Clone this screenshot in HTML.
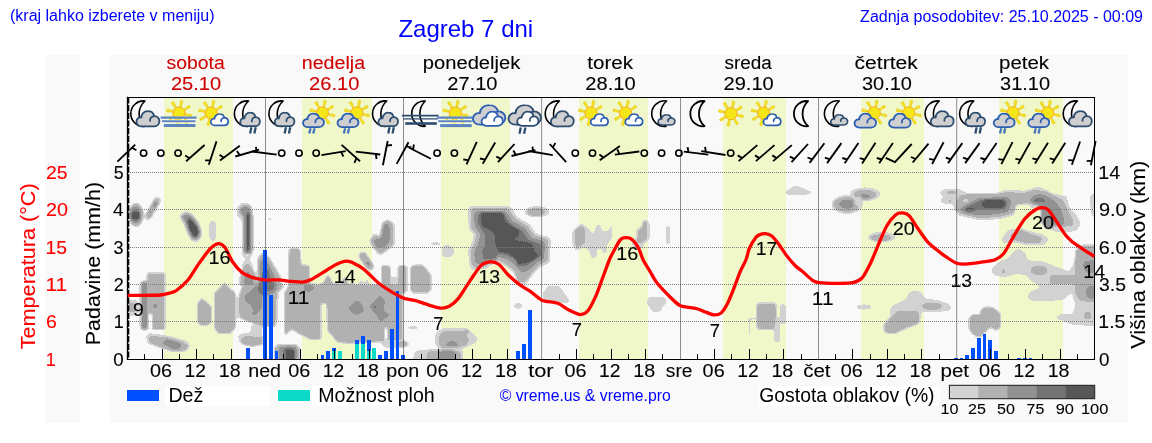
<!DOCTYPE html>
<html lang="sl"><head><meta charset="utf-8"><title>Zagreb 7 dni</title>
<style>html,body{margin:0;padding:0;background:#fff;}body{width:1152px;height:443px;overflow:hidden;font-family:"Liberation Sans",sans-serif;}</style>
</head><body>
<svg width="1152" height="443" viewBox="0 0 1152 443" style="display:block">
<rect x="0" y="0" width="1152" height="443" fill="#fff"/>
<rect x="45" y="55" width="35" height="368" fill="#f9f9f9"/>
<rect x="110" y="55" width="1018" height="368" fill="#f9f9f9"/>
<rect x="127.6" y="97.3" width="967.0" height="262.1" fill="#f9f9f9"/>
<rect x="164" y="98" width="69" height="261" fill="#f0f7c9"/>
<rect x="302" y="98" width="70" height="261" fill="#f0f7c9"/>
<rect x="441" y="98" width="69" height="261" fill="#f0f7c9"/>
<rect x="579" y="98" width="69" height="261" fill="#f0f7c9"/>
<rect x="723" y="98" width="63" height="261" fill="#f0f7c9"/>
<rect x="861" y="98" width="63" height="261" fill="#f0f7c9"/>
<rect x="999" y="98" width="64" height="261" fill="#f0f7c9"/>
<defs><filter id="cf" x="0" y="0" width="100%" height="100%" filterUnits="userSpaceOnUse" color-interpolation-filters="sRGB">
<feGaussianBlur stdDeviation="1.1"/>
<feColorMatrix type="matrix" values="1 0 0 0 0  1 0 0 0 0  1 0 0 0 0  -1 0 0 0 1"/>
<feComponentTransfer>
<feFuncR type="discrete" tableValues=".341 .341 .455 .455 .455 .573 .573 .573 .573 .573 .698 .698 .698 .698 .698 .827 .827 .827 1 1"/>
<feFuncG type="discrete" tableValues=".341 .341 .455 .455 .455 .573 .573 .573 .573 .573 .698 .698 .698 .698 .698 .827 .827 .827 1 1"/>
<feFuncB type="discrete" tableValues=".341 .341 .455 .455 .455 .573 .573 .573 .573 .573 .698 .698 .698 .698 .698 .827 .827 .827 1 1"/>
<feFuncA type="discrete" tableValues="0 0 1 1 1 1 1 1 1 1 1 1 1 1 1 1 1 1 1 1"/>
</feComponentTransfer>
</filter>
<clipPath id="plotclip"><rect x="128.2" y="165" width="965.9" height="194.4"/></clipPath></defs><g clip-path="url(#plotclip)"><g filter="url(#cf)"><rect x="100" y="140" width="1020" height="240" fill="#ffffff"/><ellipse cx="136.1" cy="214.9" rx="7.7" ry="12.3" fill="#d1d1d1"/><ellipse cx="136" cy="214.9" rx="6.7" ry="10.8" fill="#9e9e9e"/><ellipse cx="135.7" cy="214.9" rx="6.0" ry="8.4" fill="#616161"/><ellipse cx="135.5" cy="215.6" rx="4.9" ry="5.5" fill="#2e2e2e"/><rect x="131.6" y="211.7" width="7.8" height="7.8" rx="1.5" fill="#000000"/><line x1="148.3" y1="216.5" x2="157.3" y2="200.3" stroke="#d1d1d1" stroke-width="7.6" stroke-linecap="round"/><line x1="148.8" y1="215.5" x2="156.8" y2="201.2" stroke="#9e9e9e" stroke-width="4.8" stroke-linecap="round"/><ellipse cx="155.2" cy="204.4" rx="1.9" ry="3.6" fill="#616161" transform="rotate(28 155.2 204.4)"/><ellipse cx="150" cy="212" rx="1.2" ry="3.0" fill="#616161" transform="rotate(28 150 212)"/><polygon points="181,213 186,211 192,213.5 199,222 201.8,230 201.5,238 198,242.3 191.5,241.5 187,234 183.5,224 179.5,217" fill="#d1d1d1"/><polygon points="183,215 187,213.5 192,216 198,224 200,231 199.5,237 196.5,239.8 192,238.5 188.5,231 185.5,223 182,217.5" fill="#616161"/><polygon points="186.5,218.5 190.5,217.8 194,221.5 198.5,228.6 198.8,236 193.3,237.3 190,232 187.8,225" fill="#2e2e2e"/><polygon points="187.8,220 190.9,219.4 198.2,228.6 198.2,235.9 193.3,236.5 188.4,228.6" fill="#000000"/><polygon points="212.8,219.4 216.5,223.5 216.5,237.5 212.8,242 209.1,237.5 209.1,223.5" fill="#d1d1d1"/><ellipse cx="244.7" cy="211.5" rx="8.4" ry="9.2" fill="#d1d1d1"/><rect x="241.5" y="212" width="12.2" height="42.0" rx="4" fill="#d1d1d1"/><ellipse cx="245.5" cy="211" rx="5.2" ry="5.6" fill="#616161"/><rect x="243.8" y="212" width="7.8" height="41.5" rx="3.5" fill="#616161"/><rect x="245.6" y="211.3" width="4.3" height="41.7" rx="2" fill="#2e2e2e"/><rect x="246.6" y="214" width="2.6" height="36.0" rx="1.2" fill="#000000"/><ellipse cx="269.6" cy="218.8" rx="2.2" ry="1.8" fill="#d1d1d1"/><ellipse cx="259.6" cy="242.7" rx="1.7" ry="1.7" fill="#d1d1d1"/><rect x="146.6" y="272.6" width="18.8" height="57.4" rx="2" fill="#d1d1d1"/><rect x="147.5" y="273.4" width="17.1" height="55.6" rx="1.5" fill="#9e9e9e"/><rect x="139.6" y="281" width="8.4" height="49.0" rx="2" fill="#d1d1d1"/><rect x="141.6" y="281.8" width="6.0" height="47.4" rx="2" fill="#616161"/><rect x="148.3" y="313" width="4.0" height="18.0" rx="1" fill="#ffffff"/><polygon points="155.2,303 158.6,306 155.2,309 151.8,306" fill="#616161"/><polygon points="128,300 136,300 139,304 138.5,312 134,316 128,316" fill="#d1d1d1"/><rect x="128.5" y="303.4" width="6.9" height="8.4" rx="2" fill="#9e9e9e"/><polygon points="145.5,336 149,332.9 158,334 172,336.5 187,341 190.2,345 189,349.5 184,352.3 172,352 160,348 148,344" fill="#d1d1d1"/><polygon points="148.5,337.5 152,336.4 165,337.5 180,341 188,345.5 186,349.5 180,350.5 170,350 158,346 150,342" fill="#9e9e9e"/><polygon points="161.4,342.9 167.3,338.8 182.5,344 179,349.3 172,348.7" fill="#616161"/><ellipse cx="178.4" cy="322.7" rx="1.3" ry="1.3" fill="#d1d1d1"/><polygon points="197.4,302.4 201.6,297.6 208.6,303 211.6,306 211.6,323 207,326 200.5,326 197.4,323" fill="#d1d1d1"/><polygon points="198.3,303 201.6,299.2 208,304 210.8,306.8 210.8,322.5 206.5,325 201,325 198.3,322.5" fill="#9e9e9e"/><polygon points="214.2,292 221.5,286 224.5,281 227.5,286 235.6,292.5 235.6,328 230,334 219,334 214.2,329" fill="#d1d1d1"/><polygon points="215.2,292.6 222,287 224.5,283 227,287 234.7,293 234.7,327.5 229.5,333 219.5,333 215.2,328.5" fill="#9e9e9e"/><line x1="243.3" y1="254.5" x2="251.5" y2="265" stroke="#d1d1d1" stroke-width="3.0" stroke-linecap="round"/><line x1="251.3" y1="254.5" x2="243.1" y2="265" stroke="#d1d1d1" stroke-width="3.0" stroke-linecap="round"/><polygon points="247.3,260.5 252.5,267 257.5,276.5 258,285 238.5,285 239.2,278 242,267" fill="#d1d1d1"/><polygon points="261.4,252.6 265,252.6 269.3,256 276.5,268.3 281.5,277 282.5,285 256.5,285 256.8,258.5" fill="#d1d1d1"/><polygon points="242.5,284 237,298 234.5,312 235.5,318 241,318.5 259,325.5 262,327 276,327 278,318 278.5,300 279.5,293 284,288 284,284" fill="#d1d1d1"/><polygon points="251,325 262.1,327 262.1,344 256,344 241,340 237,336.5 241.5,333.5 250.5,332.2" fill="#d1d1d1"/><polygon points="247.3,263 251,268 255.5,277 256,285 240.5,285 241.2,279 243.5,268.5" fill="#9e9e9e"/><polygon points="261.8,255 264.8,255 268.6,259 275,269.5 279.5,277.5 280.3,285 258.3,285 258.5,260" fill="#9e9e9e"/><polygon points="244,284 282,284 281,288 277,291.5 276,300 275.5,318 274,326 262,325.5 259,325.4 241.5,318.5 239.3,312 239.8,298" fill="#9e9e9e"/><polygon points="247.6,270 253,280 254,285 244.5,285 244.5,278" fill="#616161"/><polygon points="262.5,258.5 265,258.5 268,263 272,271 275,278 275.5,285 260,285 260,263" fill="#616161"/><polygon points="244.4,295.5 247.7,293.4 256.3,285.4 262.1,284 276.5,284 276.5,290 272.9,294 262.1,296 262.1,307.8 254.9,316 252,307.8 249.8,304.2 245.5,302" fill="#616161"/><polygon points="263,266 266.5,266 269.5,272 271.5,280 275.5,284 274,290 267,292 262.8,296.3 257.8,292 258.2,284 261.5,276" fill="#2e2e2e"/><ellipse cx="253.4" cy="313.4" rx="1.6" ry="1.8" fill="#616161"/><ellipse cx="246.6" cy="307.1" rx="0.9" ry="1.2" fill="#d1d1d1"/><polygon points="237.9,340 243,335.5 262.9,336 262.9,345 252,347 242,345" fill="#d1d1d1"/><polygon points="240.5,340 244.5,336.8 262.4,337.2 262.4,344 252,345.8 243.5,344" fill="#9e9e9e"/><polygon points="273.8,347 278,343.9 296,343.9 299.9,347 299.9,360 273.8,360" fill="#d1d1d1"/><polygon points="275.5,348 279,345.3 295,345.3 298.5,348 298.5,360 275.5,360" fill="#9e9e9e"/><rect x="279" y="346.6" width="17.8" height="14.4" rx="3" fill="#616161"/><rect x="282.5" y="347.8" width="12.5" height="13.2" rx="3" fill="#2e2e2e"/><rect x="285.8" y="349.6" width="8.2" height="11.4" rx="2" fill="#000000"/><polygon points="284.3,336 284.3,292 288,286 288.5,249 294,247.4 300.5,249 301.5,264.5 309.8,265 310.3,283 318,284 322.8,283 328,273 333.2,283 341,283 344.7,276 349,283 356,284 358,284 361,279 364,283.5 367,278.5 370,284 372,284 381,284.4 381,266 385.8,264.6 390.6,266 390.6,279 397.8,279 397.8,266 402.5,264.6 407.3,266 407.3,292 403,294 403,340 396,342 382,342.3 348,343.8 337.4,342.8 327,330.3 326.4,304 321.4,304 321.2,339.7 310,339.7 300,335 291,329" fill="#d1d1d1"/><polygon points="285.2,335 285.2,293 289.3,286 289.5,250 294,248.6 299.8,250 300.6,265.6 309,266 309.4,284 318,285 323.2,284.2 328,275.5 332.8,284.2 341.4,284.2 344.7,278 348.4,284.2 357,285 371,285 381.9,285.3 381.9,267 385.8,265.8 389.8,267 389.8,284.8 398.6,284.8 398.6,267 402.5,265.8 406.4,267 406.4,291 401.8,293 401.8,339 396,341 382,341.3 348,342.8 338,341.8 328,330 327.3,303 320.5,303 320.4,338.7 310.5,338.7 300.5,334 292,328.4" fill="#9e9e9e"/><rect x="389.8" y="277" width="8.8" height="8.0" rx="1" fill="#d1d1d1"/><polygon points="304.5,285 312.7,285 314.5,289 309,292 303,290.5" fill="#616161"/><line x1="362.8" y1="255.8" x2="369.8" y2="266.3" stroke="#d1d1d1" stroke-width="8.6" stroke-linecap="round"/><line x1="363" y1="256.2" x2="369.6" y2="266" stroke="#9e9e9e" stroke-width="6.6" stroke-linecap="round"/><polygon points="368.1,260.5 371,263.5 368.1,266.5 365.2,263.5" fill="#616161"/><polygon points="348.3,308 356,300 361,303 364.5,311 357,315 352,313" fill="#616161"/><polygon points="379.6,295.2 384.8,300.4 383.75,310.8 390,315 380.6,322.3 376.5,315 369.2,306.7" fill="#616161"/><ellipse cx="374.9" cy="306.7" rx="2.2" ry="2" fill="#2e2e2e"/><rect x="384.3" y="327" width="3.1" height="14.5" rx="1.5" fill="#ffffff"/><ellipse cx="281" cy="293.75" rx="2.6" ry="3" fill="#ffffff"/><polygon points="410,268 413,264.8 423.5,264.8 431.4,275 431.4,290 428,293.6 413,293.6 410,290" fill="#d1d1d1"/><polygon points="410.9,268.5 413.5,265.8 423,265.8 430.5,275.5 430.5,289.5 427.5,292.6 413.5,292.6 410.9,289.5" fill="#9e9e9e"/><polygon points="380.6,344 386,339.7 404,339.7 410.8,344 404,348 386,348" fill="#d1d1d1"/><rect x="398.3" y="341.8" width="8.4" height="4.7" rx="2" fill="#9e9e9e"/><ellipse cx="412.8" cy="327.7" rx="5.8" ry="1.8" fill="#d1d1d1"/><polygon points="369.3,239.3 374.8,232.6 379,236.2 382.1,222.2 387,219.1 393,221.6 395.5,225.9 394.9,245.4 380.2,256.3 375.4,251.5 369.9,244.1" fill="#d1d1d1"/><polygon points="371,240 375.2,235.5 380,238 383,223.5 387,220.8 391.5,223.5 393,227 392.6,244.2 380.6,253.3 376,249.5 371.5,243.5" fill="#9e9e9e"/><polygon points="372.9,240.5 376.6,239.3 381.5,238 383.9,224.6 387,222.8 389.4,225.9 390,238 388.8,242.9 381.5,249 376.6,246.6" fill="#616161"/><rect x="385.1" y="232.5" width="1.3" height="8.5" rx="0.5" fill="#2e2e2e"/><ellipse cx="435.7" cy="243.7" rx="5.6" ry="1.8" fill="#d1d1d1"/><polygon points="441.2,248 445,245 451,245.5 454.6,250 453,256 448,257.6 442.5,256.5" fill="#d1d1d1"/><polygon points="468,209 470.5,206 509.5,206 512,208.5 517.5,216.9 530,224.2 536.25,233.5 548.75,236.7 551,240 550,263 541.5,266.5 534,274 530,279 526,284 517.5,284 513,272 505,266 498.75,262.4 492,265 486,269 472,270.5 468.5,263 468.2,250 472,242 473.75,234.6 468.5,229" fill="#d1d1d1"/><polygon points="471,211 473,208.8 507.5,208.8 509.5,211 515,219 527.5,226.5 534,236 546,239 548,242 547,261 539.5,264.3 532,271.5 528.5,277 524.5,282 519,282 515,270.5 506.5,264 498.75,259.6 491,262 485,266 474.5,267.5 471.5,261.5 471.2,251 475,243 477,234.6 471.5,227.5" fill="#9e9e9e"/><polygon points="474.3,213.2 476,211.3 505.5,211.3 507,213.2 512.5,221 525.5,228.5 531.5,238 543.5,241 545,244 544,259 537.5,262 530,269 524,273 519,270 516.5,266 508,260 498.75,256.6 490,259 484,263 477,264.5 474.6,260 474.4,252 478,244 480.3,234.6 474.6,226" fill="#616161"/><polygon points="477.5,214.8 479,213.5 504,213.5 505.3,215 510,223 522.5,230.5 529,240 540,243 541.5,246 541,257 535,259.8 527,266 518,267 516,261 508,256 499,254 496,259.5 484,260.5 482,255 482,249.5 484.5,245 484.5,234.6 478,225" fill="#2e2e2e"/><polygon points="480.5,212.2 502.9,212.2 505,222 513.3,227.3 519.6,230.4 518.5,236.7 511.25,239.3 521.7,241.4 532.1,243.5 534.2,250.75 538.3,256 532.1,261.2 517.5,264.3 515.4,258 507.1,252.8 498.75,251.8 495.6,244.5 494.6,233.5 489.4,229.4 482.1,226.25" fill="#000000"/><ellipse cx="537" cy="211.7" rx="12.8" ry="5.7" fill="#d1d1d1"/><ellipse cx="536" cy="212.1" rx="8.6" ry="3.7" fill="#9e9e9e"/><polygon points="542.5,302.8 542.5,293 548.5,285.6 559,285.6 566,295 570.6,302.8" fill="#d1d1d1"/><polygon points="518,301.8 523.8,305.8 518,309.7 512.5,305.8" fill="#d1d1d1"/><polygon points="434.4,338 437,331 444,328 462,328 470,330 478.1,338 476,343 463,349.3 440,349.3 435.5,345" fill="#d1d1d1"/><polygon points="439,338 441,333.5 446,331.1 460,331.1 466,335 468.75,340 466,345 458,347.25 442,347.25 439,344" fill="#9e9e9e"/><polygon points="444.8,344.5 452,340 459.4,344.5 456,346.2 447,346.2" fill="#616161"/><ellipse cx="466.1" cy="331.6" rx="2.5" ry="2.5" fill="#9e9e9e"/><polygon points="412.9,360 414,352 420,349.6 460,348.8 463.5,352 463.5,360" fill="#d1d1d1"/><polygon points="426.5,360 427.5,353 432,351 458,351 460.4,354 460.4,360" fill="#9e9e9e"/><polygon points="437.9,360 438.5,352.5 442,350.6 453,350.6 455.7,353 455.7,360" fill="#616161"/><polygon points="572.3,230.3 581.5,223 590.6,230.3 593,235.2 596.1,225.4 600.4,224.2 602.2,230.9 606.5,231.5 610.1,229.1 610.4,221.1 612,221.8 612,238.2 607.7,243.7 607.1,252.2 602.8,253.5 601.6,248.6 597.3,249.8 596.7,257.1 593.7,259 590,255.3 589.4,251 584.5,247.4 576,251 572.3,245" fill="#d1d1d1"/><polygon points="575.4,230.3 581.5,226 584.5,229.1 584.5,242.5 577.2,247.4 575.4,243.7" fill="#9e9e9e"/><polygon points="630.9,242.5 635.7,238.8 635.7,230.3 641.8,225.4 642.4,220.5 646.1,219.3 649.8,223 649.8,238.8 644.3,243.7 643,247.4 638.2,248.6 633.3,247.4" fill="#d1d1d1"/><polygon points="637.6,243.7 638.2,231.5 643,226.6 643.7,221.8 646.7,221.1 647,238.8 641.2,242.5" fill="#9e9e9e"/><rect x="666.2" y="224.8" width="3.7" height="20.1" rx="1.8" fill="#d1d1d1"/><polygon points="646.25,301.8 649,297 664.3,296.25 667,302.5 662.2,307.4 661.5,311.5 652.5,312 649,306.7" fill="#d1d1d1"/><rect x="756.2" y="302.6" width="20.6" height="27.4" rx="3" fill="#d1d1d1"/><rect x="757.4" y="303.6" width="18.0" height="25.3" rx="3" fill="#9e9e9e"/><rect x="748.3" y="317.8" width="7.5" height="2.0" rx="0.5" fill="#d1d1d1"/><rect x="748.3" y="317.8" width="2.1" height="18.0" rx="0.8" fill="#d1d1d1"/><rect x="774" y="324.7" width="6.3" height="17.7" rx="1.5" fill="#d1d1d1"/><rect x="780" y="303.9" width="5.8" height="19.6" rx="1.5" fill="#d1d1d1"/><rect x="775" y="317.5" width="10.8" height="6.5" rx="1" fill="#d1d1d1"/><polygon points="783.8,192.6 795.3,184.9 813.8,192.6 804.6,195.6 787.7,194.9" fill="#d1d1d1"/><ellipse cx="847.2" cy="204.5" rx="15.8" ry="9.6" fill="#d1d1d1"/><ellipse cx="846.5" cy="204.5" rx="12.8" ry="7" fill="#9e9e9e"/><ellipse cx="847.1" cy="204.1" rx="8.2" ry="4.6" fill="#616161"/><ellipse cx="865.2" cy="194.1" rx="15.4" ry="6.9" fill="#d1d1d1"/><ellipse cx="864.8" cy="194.9" rx="11.2" ry="4.6" fill="#9e9e9e"/><ellipse cx="863.3" cy="196.4" rx="7.3" ry="2.3" fill="#616161"/><rect x="854" y="196" width="8.0" height="10.0" rx="2" fill="#d1d1d1"/><ellipse cx="881.7" cy="237" rx="14.2" ry="5.4" fill="#d1d1d1"/><ellipse cx="880.9" cy="237.9" rx="10.4" ry="3.1" fill="#9e9e9e"/><ellipse cx="863.9" cy="307" rx="7.7" ry="2.8" fill="#d1d1d1"/><polygon points="889.6,310.7 891.7,305.8 905.6,298.9 909,292.6 915.3,290.3 922.2,292.6 925,298.2 938.9,300.3 947.2,303 952.1,306.5 949.3,310.7 938.9,312.1 922.2,312.1 919.4,323.9 905.6,329.4 894.4,334.3 885.4,333.6 882.2,329.4 883.3,323.9 890.3,315.6" fill="#d1d1d1"/><polygon points="884.7,325.3 897.2,311.4 916.7,311.4 919.4,314.9 918,323.2 905.6,327.4 895.8,332.9 886.1,332.2" fill="#9e9e9e"/><ellipse cx="932" cy="306.2" rx="9.8" ry="3.2" fill="#9e9e9e"/><polygon points="968.6,318.3 972.4,314.2 980,314.2 980.6,309.5 985,306.4 993.4,307.1 1000.8,314 1001.1,327 996.7,331 990.3,327.6 983.6,334.4 979.2,338 973.2,335 968.6,329.6" fill="#d1d1d1"/><polygon points="969.4,318.3 972.9,314.9 980.6,314.9 981.25,310 985.4,307.2 993,307.9 1000,314.2 1000.3,326.7 996.5,330.1 990.3,326.7 983.3,333.6 979.2,337.1 973.6,334.3 969.4,329.4" fill="#9e9e9e"/><polygon points="939.1,192.2 944.6,188.5 958,188.5 966.6,192.8 997,192.8 1005.6,189.8 1025,190.4 1036,186.9 1041.2,187.3 1053.4,193.4 1066.8,195.9 1069.3,206.8 1077.8,216.6 1080.9,223.9 1077.8,228.8 1065.6,232.4 1055,231.5 1048,226 1042,212 1037.3,206.2 1030.2,209.3 1016.2,209.3 1014.1,215.4 998.3,219.6 978.8,220.2 958,215.4 954.4,209.3 953.2,204.4 943.4,203.8 939.8,200.7 943.4,197.1" fill="#d1d1d1"/><rect x="1016.2" y="204.6" width="14.0" height="5.2" rx="1" fill="#ffffff"/><polygon points="956.2,203 960,196 968,194.6 997,194.6 1006,192.5 1024.1,193.5 1032.7,190.6 1044.9,191.2 1054.6,196.5 1063.2,200.7 1068,211.7 1072.9,220.2 1071.7,227.6 1063.2,230.6 1054,228.5 1048,212 1040,205.5 1030,203.6 1023,203.4 1015.4,205 1013,213 998,216.8 978.8,217.5 960,213.5 956.8,209" fill="#9e9e9e"/><rect x="946.5" y="191.4" width="9.7" height="2.2" rx="1" fill="#9e9e9e"/><ellipse cx="950" cy="201" rx="1.8" ry="1.2" fill="#9e9e9e"/><polygon points="959.3,209.3 965.4,205 978.8,198.3 1008,197.1 1011.7,202 1008,211.7 998.3,214.1 978.8,215.4 965.4,213.5" fill="#616161"/><polygon points="1029,200.1 1035.1,194.6 1043.7,194.6 1053.4,200.1 1060.7,208 1064.4,220.2 1063.2,226.3 1055.9,228.2 1046,228.5 1041.5,222 1041.2,210.5 1038,205 1032.7,203.2" fill="#616161"/><polygon points="962.9,208.7 981.2,199.5 1005.6,198.9 1008,203.2 1005.6,208.7 995.9,210.5 978.8,210.5 966.6,212" fill="#2e2e2e"/><polygon points="1031.5,202.4 1036,197.3 1043,197.3 1047.3,202.4" fill="#2e2e2e"/><rect x="982.4" y="200.1" width="22.0" height="7.3" rx="1.5" fill="#000000"/><rect x="966" y="208" width="9.1" height="2.7" rx="1" fill="#000000"/><ellipse cx="965.6" cy="200.8" rx="3.2" ry="1.2" fill="#ffffff"/><polygon points="1001.6,238.2 1008.3,229.7 1020.5,227.8 1030.2,230.9 1043.7,234.5 1049.1,239.4 1043.7,244.9 1026.6,245.5 1014.4,242.5 1003.4,243.7" fill="#d1d1d1"/><polygon points="1010.1,234.5 1021.7,230.3 1030.2,233.9 1042.4,238.2 1038.8,243.1 1026.6,242.5 1013.2,239.4" fill="#9e9e9e"/><polygon points="1089.4,196 1094.6,192.2 1094.6,220.2 1091,214" fill="#d1d1d1"/><polygon points="991.2,268.7 997.3,262.6 1008.3,257.7 1014.4,250.4 1019.3,248.6 1025.4,252.8 1027.8,260.1 1043.7,261.4 1058.3,267.5 1069.3,271.1 1074.1,262.6 1075.4,250.4 1080.2,244.9 1095,244.3 1095,326.4 1070,324.5 1064,321 1054.6,318.3 1061,313.7 1071.7,314.6 1075.4,305.6 1071.7,293 1068,296 1062.7,300.2 1048.2,301.1 1032,301.1 1026.6,297.5 1030.2,291.2 1039.2,288.4 1037.4,283.9 1032,282.1 1026.6,275.8 1017.5,274 1003.1,277.6 993.1,274.9" fill="#d1d1d1"/><ellipse cx="1039.1" cy="270.4" rx="8.2" ry="4.5" fill="#9e9e9e"/><polygon points="1001.5,272.5 1003.5,268 1005.5,272.5" fill="#9e9e9e"/><polygon points="1050,275.8 1076,275.8 1075.4,262 1076.5,250.5 1080.8,245.8 1095,245.5 1095,302 1080,300.5 1075.4,292 1075.4,283.9 1050,283.9" fill="#9e9e9e"/><polygon points="1083.5,262 1088,260.4 1095,260.4 1095,273 1087,273 1083.5,269" fill="#616161"/><polygon points="1086.2,289 1089,285.7 1095,285.7 1095,298.4 1088,298.4 1086.2,295" fill="#616161"/><ellipse cx="1087.6" cy="315.5" rx="3.2" ry="3.6" fill="#9e9e9e"/><polygon points="1052.2,226 1079,226 1076,231 1064,233 1054,232" fill="#d1d1d1"/></g></g>
<line x1="128" y1="172.5" x2="1094.6" y2="172.5" stroke="#7c7c7c" stroke-width="1" stroke-dasharray="1 1"/>
<line x1="128" y1="209.5" x2="1094.6" y2="209.5" stroke="#7c7c7c" stroke-width="1" stroke-dasharray="1 1"/>
<line x1="128" y1="247.5" x2="1094.6" y2="247.5" stroke="#7c7c7c" stroke-width="1" stroke-dasharray="1 1"/>
<line x1="128" y1="284.5" x2="1094.6" y2="284.5" stroke="#7c7c7c" stroke-width="1" stroke-dasharray="1 1"/>
<line x1="128" y1="321.5" x2="1094.6" y2="321.5" stroke="#7c7c7c" stroke-width="1" stroke-dasharray="1 1"/>
<line x1="144.5" y1="359" x2="144.5" y2="354" stroke="#000" stroke-width="1"/>
<line x1="179.5" y1="359" x2="179.5" y2="354" stroke="#000" stroke-width="1"/>
<line x1="213.5" y1="359" x2="213.5" y2="354" stroke="#000" stroke-width="1"/>
<line x1="248.5" y1="359" x2="248.5" y2="354" stroke="#000" stroke-width="1"/>
<line x1="283.5" y1="359" x2="283.5" y2="354" stroke="#000" stroke-width="1"/>
<line x1="317.5" y1="359" x2="317.5" y2="354" stroke="#000" stroke-width="1"/>
<line x1="352.5" y1="359" x2="352.5" y2="354" stroke="#000" stroke-width="1"/>
<line x1="386.5" y1="359" x2="386.5" y2="354" stroke="#000" stroke-width="1"/>
<line x1="421.5" y1="359" x2="421.5" y2="354" stroke="#000" stroke-width="1"/>
<line x1="455.5" y1="359" x2="455.5" y2="354" stroke="#000" stroke-width="1"/>
<line x1="490.5" y1="359" x2="490.5" y2="354" stroke="#000" stroke-width="1"/>
<line x1="524.5" y1="359" x2="524.5" y2="354" stroke="#000" stroke-width="1"/>
<line x1="559.5" y1="359" x2="559.5" y2="354" stroke="#000" stroke-width="1"/>
<line x1="593.5" y1="359" x2="593.5" y2="354" stroke="#000" stroke-width="1"/>
<line x1="628.5" y1="359" x2="628.5" y2="354" stroke="#000" stroke-width="1"/>
<line x1="662.5" y1="359" x2="662.5" y2="354" stroke="#000" stroke-width="1"/>
<line x1="697.5" y1="359" x2="697.5" y2="354" stroke="#000" stroke-width="1"/>
<line x1="731.5" y1="359" x2="731.5" y2="354" stroke="#000" stroke-width="1"/>
<line x1="766.5" y1="359" x2="766.5" y2="354" stroke="#000" stroke-width="1"/>
<line x1="801.5" y1="359" x2="801.5" y2="354" stroke="#000" stroke-width="1"/>
<line x1="835.5" y1="359" x2="835.5" y2="354" stroke="#000" stroke-width="1"/>
<line x1="870.5" y1="359" x2="870.5" y2="354" stroke="#000" stroke-width="1"/>
<line x1="904.5" y1="359" x2="904.5" y2="354" stroke="#000" stroke-width="1"/>
<line x1="939.5" y1="359" x2="939.5" y2="354" stroke="#000" stroke-width="1"/>
<line x1="973.5" y1="359" x2="973.5" y2="354" stroke="#000" stroke-width="1"/>
<line x1="1008.5" y1="359" x2="1008.5" y2="354" stroke="#000" stroke-width="1"/>
<line x1="1042.5" y1="359" x2="1042.5" y2="354" stroke="#000" stroke-width="1"/>
<line x1="1077.5" y1="359" x2="1077.5" y2="354" stroke="#000" stroke-width="1"/>
<rect x="246" y="348" width="4" height="11" fill="#0050ff"/>
<rect x="263" y="250" width="4" height="109" fill="#0050ff"/>
<rect x="269" y="295" width="4" height="64" fill="#0050ff"/>
<rect x="275" y="351" width="3" height="8" fill="#0050ff"/>
<rect x="321" y="355" width="3" height="4" fill="#0050ff"/>
<rect x="326" y="351" width="4" height="8" fill="#0050ff"/>
<rect x="332" y="351" width="4" height="8" fill="#0cdac8"/>
<rect x="332" y="348" width="4" height="3" fill="#0050ff"/>
<rect x="338" y="351" width="4" height="8" fill="#0cdac8"/>
<rect x="355" y="344" width="4" height="15" fill="#0cdac8"/>
<rect x="355" y="340" width="4" height="4" fill="#0050ff"/>
<rect x="361" y="344" width="4" height="15" fill="#0cdac8"/>
<rect x="361" y="336" width="4" height="8" fill="#0050ff"/>
<rect x="367" y="351" width="4" height="8" fill="#0cdac8"/>
<rect x="367" y="340" width="4" height="11" fill="#0050ff"/>
<rect x="372" y="348" width="4" height="11" fill="#0cdac8"/>
<rect x="378" y="355" width="4" height="4" fill="#0050ff"/>
<rect x="384" y="351" width="4" height="8" fill="#0050ff"/>
<rect x="390" y="329" width="4" height="30" fill="#0050ff"/>
<rect x="396" y="291" width="3" height="68" fill="#0050ff"/>
<rect x="401" y="355" width="4" height="4" fill="#0050ff"/>
<rect x="516" y="351" width="4" height="8" fill="#0050ff"/>
<rect x="522" y="344" width="4" height="15" fill="#0050ff"/>
<rect x="528" y="310" width="4" height="49" fill="#0050ff"/>
<rect x="954" y="358" width="4" height="1" fill="#0050ff"/>
<rect x="960" y="358" width="3" height="1" fill="#0050ff"/>
<rect x="965" y="355" width="4" height="4" fill="#0050ff"/>
<rect x="971" y="348" width="4" height="11" fill="#0050ff"/>
<rect x="977" y="338" width="4" height="21" fill="#0050ff"/>
<rect x="983" y="334" width="3" height="25" fill="#0050ff"/>
<rect x="988" y="340" width="4" height="19" fill="#0050ff"/>
<rect x="994" y="351" width="4" height="8" fill="#0050ff"/>
<rect x="1017" y="358" width="4" height="1" fill="#0050ff"/>
<rect x="1023" y="358" width="4" height="1" fill="#0050ff"/>
<rect x="1029" y="358" width="3" height="1" fill="#0050ff"/>
<line x1="265.5" y1="98" x2="265.5" y2="359" stroke="#000" stroke-opacity="0.43" stroke-width="1"/>
<line x1="403.5" y1="98" x2="403.5" y2="359" stroke="#000" stroke-opacity="0.43" stroke-width="1"/>
<line x1="541.6" y1="98" x2="541.6" y2="359" stroke="#000" stroke-opacity="0.43" stroke-width="1"/>
<line x1="680.5" y1="98" x2="680.5" y2="359" stroke="#000" stroke-opacity="0.43" stroke-width="1"/>
<line x1="818.5" y1="98" x2="818.5" y2="359" stroke="#000" stroke-opacity="0.43" stroke-width="1"/>
<line x1="956.7" y1="98" x2="956.7" y2="359" stroke="#000" stroke-opacity="0.43" stroke-width="1"/>
<line x1="162.5" y1="359" x2="162.5" y2="349" stroke="#000" stroke-width="1"/>
<line x1="196.5" y1="359" x2="196.5" y2="349" stroke="#000" stroke-width="1"/>
<line x1="231.5" y1="359" x2="231.5" y2="349" stroke="#000" stroke-width="1"/>
<line x1="300.5" y1="359" x2="300.5" y2="349" stroke="#000" stroke-width="1"/>
<line x1="334.5" y1="359" x2="334.5" y2="349" stroke="#000" stroke-width="1"/>
<line x1="369.5" y1="359" x2="369.5" y2="349" stroke="#000" stroke-width="1"/>
<line x1="438.5" y1="359" x2="438.5" y2="349" stroke="#000" stroke-width="1"/>
<line x1="472.5" y1="359" x2="472.5" y2="349" stroke="#000" stroke-width="1"/>
<line x1="507.5" y1="359" x2="507.5" y2="349" stroke="#000" stroke-width="1"/>
<line x1="576.5" y1="359" x2="576.5" y2="349" stroke="#000" stroke-width="1"/>
<line x1="611.5" y1="359" x2="611.5" y2="349" stroke="#000" stroke-width="1"/>
<line x1="645.5" y1="359" x2="645.5" y2="349" stroke="#000" stroke-width="1"/>
<line x1="714.5" y1="359" x2="714.5" y2="349" stroke="#000" stroke-width="1"/>
<line x1="749.5" y1="359" x2="749.5" y2="349" stroke="#000" stroke-width="1"/>
<line x1="783.5" y1="359" x2="783.5" y2="349" stroke="#000" stroke-width="1"/>
<line x1="852.5" y1="359" x2="852.5" y2="349" stroke="#000" stroke-width="1"/>
<line x1="887.5" y1="359" x2="887.5" y2="349" stroke="#000" stroke-width="1"/>
<line x1="921.5" y1="359" x2="921.5" y2="349" stroke="#000" stroke-width="1"/>
<line x1="990.5" y1="359" x2="990.5" y2="349" stroke="#000" stroke-width="1"/>
<line x1="1025.5" y1="359" x2="1025.5" y2="349" stroke="#000" stroke-width="1"/>
<line x1="1060.5" y1="359" x2="1060.5" y2="349" stroke="#000" stroke-width="1"/>
<line x1="127.0" y1="97.5" x2="1095.1" y2="97.5" stroke="#000" stroke-width="1"/>
<line x1="127.0" y1="359.5" x2="1095.1" y2="359.5" stroke="#000" stroke-width="1"/>
<line x1="1094.5" y1="97" x2="1094.5" y2="360" stroke="#000" stroke-width="1"/>
<line x1="127.5" y1="96.8" x2="127.5" y2="359.9" stroke="#000" stroke-width="1.3"/>
<line x1="128.6" y1="97.3" x2="128.6" y2="359.4" stroke="#000" stroke-width="1.4" stroke-dasharray="6.2 1.5"/>
<defs><clipPath id="fogclip"><rect x="-2" y="0" width="40" height="18.6"/></clipPath></defs>
<g transform="translate(127.60,98.0)"><path d="M17.40,3.00 A12.75,12.75 0 1 0 16.60,28.40 A17.43,17.43 0 0 1 17.40,3.00 Z" fill="#f9f9f9" stroke="#000" stroke-width="1.6" stroke-linejoin="round"/><g transform="translate(8.10,12.30) scale(1.012,1.000)" stroke="#2d4d70" stroke-width="1.79" stroke-linejoin="round" stroke-linecap="round"><path d="M6.5,16 C2.5,16.3 0.3,13.5 0.8,10.8 C1.2,8 3.5,6.6 5.6,7.2 C5.6,3.5 8.5,0.7 12,0.8 C15.5,0.8 17.8,3 18.2,5.8 C21.5,5.6 23.6,8.2 23.4,11 C23.2,14 20.8,16.2 17.5,16 Z" fill="#cfcfcf"/><path d="M18.4,5.8 C15.9,6.1 13.9,8 14.2,10.6" fill="none"/></g></g>
<g transform="translate(162.13,98.0)"><g clip-path="url(#fogclip)"><g transform="translate(16.90,15.00)"><path transform="rotate(-77)" d="M6.0,-0.6 L12.3,-1.3 Q13.5,0 12.3,1.3 L6.0,0.6 Z" fill="#f5e61a" stroke="#e4c61c" stroke-width="0.6"/><path transform="rotate(-32)" d="M6.0,-0.6 L12.3,-1.3 Q13.5,0 12.3,1.3 L6.0,0.6 Z" fill="#f5e61a" stroke="#e4c61c" stroke-width="0.6"/><path transform="rotate(13)" d="M6.0,-0.6 L12.3,-1.3 Q13.5,0 12.3,1.3 L6.0,0.6 Z" fill="#f5e61a" stroke="#e4c61c" stroke-width="0.6"/><path transform="rotate(58)" d="M6.0,-0.6 L12.3,-1.3 Q13.5,0 12.3,1.3 L6.0,0.6 Z" fill="#f5e61a" stroke="#e4c61c" stroke-width="0.6"/><path transform="rotate(103)" d="M6.0,-0.6 L12.3,-1.3 Q13.5,0 12.3,1.3 L6.0,0.6 Z" fill="#f5e61a" stroke="#e4c61c" stroke-width="0.6"/><path transform="rotate(148)" d="M6.0,-0.6 L12.3,-1.3 Q13.5,0 12.3,1.3 L6.0,0.6 Z" fill="#f5e61a" stroke="#e4c61c" stroke-width="0.6"/><path transform="rotate(193)" d="M6.0,-0.6 L12.3,-1.3 Q13.5,0 12.3,1.3 L6.0,0.6 Z" fill="#f5e61a" stroke="#e4c61c" stroke-width="0.6"/><path transform="rotate(238)" d="M6.0,-0.6 L12.3,-1.3 Q13.5,0 12.3,1.3 L6.0,0.6 Z" fill="#f5e61a" stroke="#e4c61c" stroke-width="0.6"/><circle r="6.1" fill="#f5e61a" stroke="#f7a41c" stroke-width="0.9"/></g></g><rect x="0" y="19.5" width="33.4" height="8.2" fill="#ffffff" opacity="0.45"/><path d="M7,21.4h3M12.5,21.4h7M22,21.4h3M14.5,25.2h2.6M23,25.2h2.6" stroke="#f0dc3a" stroke-width="1.1"/><line x1="-1.5" y1="19.6" x2="34.3" y2="19.6" stroke="#5b84c0" stroke-width="2.1"/><line x1="-0.2" y1="23.2" x2="33.3" y2="23.2" stroke="#5b84c0" stroke-width="1.9"/><line x1="1.7" y1="27.6" x2="33.3" y2="27.6" stroke="#5b84c0" stroke-width="3.0"/></g>
<g transform="translate(196.67,98.0)"><g transform="translate(14.40,15.00)"><path transform="rotate(-77)" d="M6.0,-0.6 L12.3,-1.3 Q13.5,0 12.3,1.3 L6.0,0.6 Z" fill="#f5e61a" stroke="#e4c61c" stroke-width="0.6"/><path transform="rotate(-32)" d="M6.0,-0.6 L12.3,-1.3 Q13.5,0 12.3,1.3 L6.0,0.6 Z" fill="#f5e61a" stroke="#e4c61c" stroke-width="0.6"/><path transform="rotate(13)" d="M6.0,-0.6 L12.3,-1.3 Q13.5,0 12.3,1.3 L6.0,0.6 Z" fill="#f5e61a" stroke="#e4c61c" stroke-width="0.6"/><path transform="rotate(58)" d="M6.0,-0.6 L12.3,-1.3 Q13.5,0 12.3,1.3 L6.0,0.6 Z" fill="#f5e61a" stroke="#e4c61c" stroke-width="0.6"/><path transform="rotate(103)" d="M6.0,-0.6 L12.3,-1.3 Q13.5,0 12.3,1.3 L6.0,0.6 Z" fill="#f5e61a" stroke="#e4c61c" stroke-width="0.6"/><path transform="rotate(148)" d="M6.0,-0.6 L12.3,-1.3 Q13.5,0 12.3,1.3 L6.0,0.6 Z" fill="#f5e61a" stroke="#e4c61c" stroke-width="0.6"/><path transform="rotate(193)" d="M6.0,-0.6 L12.3,-1.3 Q13.5,0 12.3,1.3 L6.0,0.6 Z" fill="#f5e61a" stroke="#e4c61c" stroke-width="0.6"/><path transform="rotate(238)" d="M6.0,-0.6 L12.3,-1.3 Q13.5,0 12.3,1.3 L6.0,0.6 Z" fill="#f5e61a" stroke="#e4c61c" stroke-width="0.6"/><circle r="6.1" fill="#f5e61a" stroke="#f7a41c" stroke-width="0.9"/></g><g transform="translate(13.60,15.40) scale(0.767,0.745)" stroke="#2c5fb4" stroke-width="2.25" stroke-linejoin="round" stroke-linecap="round"><path d="M6.5,16 C2.5,16.3 0.3,13.5 0.8,10.8 C1.2,8 3.5,6.6 5.6,7.2 C5.6,3.5 8.5,0.7 12,0.8 C15.5,0.8 17.8,3 18.2,5.8 C21.5,5.6 23.6,8.2 23.4,11 C23.2,14 20.8,16.2 17.5,16 Z" fill="#ffffff"/><path d="M18.4,5.8 C15.9,6.1 13.9,8 14.2,10.6" fill="none"/></g></g>
<g transform="translate(231.20,98.0)"><path d="M17.40,3.00 A12.75,12.75 0 1 0 16.60,28.40 A17.43,17.43 0 0 1 17.40,3.00 Z" fill="#f9f9f9" stroke="#000" stroke-width="1.6" stroke-linejoin="round"/><g transform="translate(8.40,14.00) scale(0.867,0.885)" stroke="#2d4d70" stroke-width="2.06" stroke-linejoin="round" stroke-linecap="round"><path d="M6.5,16 C2.5,16.3 0.3,13.5 0.8,10.8 C1.2,8 3.5,6.6 5.6,7.2 C5.6,3.5 8.5,0.7 12,0.8 C15.5,0.8 17.8,3 18.2,5.8 C21.5,5.6 23.6,8.2 23.4,11 C23.2,14 20.8,16.2 17.5,16 Z" fill="#cfcfcf"/><path d="M18.4,5.8 C15.9,6.1 13.9,8 14.2,10.6" fill="none"/></g><line x1="20.2" y1="29.3" x2="18.9" y2="35.5" stroke="#2d4d70" stroke-width="2.3"/><line x1="24.5" y1="29.3" x2="23.2" y2="35.5" stroke="#2d4d70" stroke-width="2.3"/></g>
<g transform="translate(265.74,98.0)"><path d="M17.40,3.00 A12.75,12.75 0 1 0 16.60,28.40 A17.43,17.43 0 0 1 17.40,3.00 Z" fill="#f9f9f9" stroke="#000" stroke-width="1.6" stroke-linejoin="round"/><g transform="translate(8.40,14.00) scale(0.867,0.885)" stroke="#2d4d70" stroke-width="2.06" stroke-linejoin="round" stroke-linecap="round"><path d="M6.5,16 C2.5,16.3 0.3,13.5 0.8,10.8 C1.2,8 3.5,6.6 5.6,7.2 C5.6,3.5 8.5,0.7 12,0.8 C15.5,0.8 17.8,3 18.2,5.8 C21.5,5.6 23.6,8.2 23.4,11 C23.2,14 20.8,16.2 17.5,16 Z" fill="#cfcfcf"/><path d="M18.4,5.8 C15.9,6.1 13.9,8 14.2,10.6" fill="none"/></g><line x1="20.2" y1="29.3" x2="18.9" y2="35.5" stroke="#2d4d70" stroke-width="2.3"/><line x1="24.5" y1="29.3" x2="23.2" y2="35.5" stroke="#2d4d70" stroke-width="2.3"/></g>
<g transform="translate(300.27,98.0)"><g transform="translate(22.10,14.90)"><path transform="rotate(-77)" d="M6.0,-0.6 L12.3,-1.3 Q13.5,0 12.3,1.3 L6.0,0.6 Z" fill="#f5e61a" stroke="#e4c61c" stroke-width="0.6"/><path transform="rotate(-32)" d="M6.0,-0.6 L12.3,-1.3 Q13.5,0 12.3,1.3 L6.0,0.6 Z" fill="#f5e61a" stroke="#e4c61c" stroke-width="0.6"/><path transform="rotate(13)" d="M6.0,-0.6 L12.3,-1.3 Q13.5,0 12.3,1.3 L6.0,0.6 Z" fill="#f5e61a" stroke="#e4c61c" stroke-width="0.6"/><path transform="rotate(58)" d="M6.0,-0.6 L12.3,-1.3 Q13.5,0 12.3,1.3 L6.0,0.6 Z" fill="#f5e61a" stroke="#e4c61c" stroke-width="0.6"/><path transform="rotate(103)" d="M6.0,-0.6 L12.3,-1.3 Q13.5,0 12.3,1.3 L6.0,0.6 Z" fill="#f5e61a" stroke="#e4c61c" stroke-width="0.6"/><path transform="rotate(148)" d="M6.0,-0.6 L12.3,-1.3 Q13.5,0 12.3,1.3 L6.0,0.6 Z" fill="#f5e61a" stroke="#e4c61c" stroke-width="0.6"/><path transform="rotate(193)" d="M6.0,-0.6 L12.3,-1.3 Q13.5,0 12.3,1.3 L6.0,0.6 Z" fill="#f5e61a" stroke="#e4c61c" stroke-width="0.6"/><path transform="rotate(238)" d="M6.0,-0.6 L12.3,-1.3 Q13.5,0 12.3,1.3 L6.0,0.6 Z" fill="#f5e61a" stroke="#e4c61c" stroke-width="0.6"/><circle r="6.1" fill="#f5e61a" stroke="#f7a41c" stroke-width="0.9"/></g><g transform="translate(2.00,14.90) scale(0.925,0.885)" stroke="#2c5fb4" stroke-width="1.99" stroke-linejoin="round" stroke-linecap="round"><path d="M6.5,16 C2.5,16.3 0.3,13.5 0.8,10.8 C1.2,8 3.5,6.6 5.6,7.2 C5.6,3.5 8.5,0.7 12,0.8 C15.5,0.8 17.8,3 18.2,5.8 C21.5,5.6 23.6,8.2 23.4,11 C23.2,14 20.8,16.2 17.5,16 Z" fill="#cfcfcf"/><path d="M18.4,5.8 C15.9,6.1 13.9,8 14.2,10.6" fill="none"/></g><line x1="10.3" y1="30.3" x2="9.0" y2="35.5" stroke="#4876bd" stroke-width="2.3"/><line x1="14.3" y1="30.3" x2="13.0" y2="35.5" stroke="#4876bd" stroke-width="2.3"/></g>
<g transform="translate(334.81,98.0)"><g transform="translate(22.10,14.90)"><path transform="rotate(-77)" d="M6.0,-0.6 L12.3,-1.3 Q13.5,0 12.3,1.3 L6.0,0.6 Z" fill="#f5e61a" stroke="#e4c61c" stroke-width="0.6"/><path transform="rotate(-32)" d="M6.0,-0.6 L12.3,-1.3 Q13.5,0 12.3,1.3 L6.0,0.6 Z" fill="#f5e61a" stroke="#e4c61c" stroke-width="0.6"/><path transform="rotate(13)" d="M6.0,-0.6 L12.3,-1.3 Q13.5,0 12.3,1.3 L6.0,0.6 Z" fill="#f5e61a" stroke="#e4c61c" stroke-width="0.6"/><path transform="rotate(58)" d="M6.0,-0.6 L12.3,-1.3 Q13.5,0 12.3,1.3 L6.0,0.6 Z" fill="#f5e61a" stroke="#e4c61c" stroke-width="0.6"/><path transform="rotate(103)" d="M6.0,-0.6 L12.3,-1.3 Q13.5,0 12.3,1.3 L6.0,0.6 Z" fill="#f5e61a" stroke="#e4c61c" stroke-width="0.6"/><path transform="rotate(148)" d="M6.0,-0.6 L12.3,-1.3 Q13.5,0 12.3,1.3 L6.0,0.6 Z" fill="#f5e61a" stroke="#e4c61c" stroke-width="0.6"/><path transform="rotate(193)" d="M6.0,-0.6 L12.3,-1.3 Q13.5,0 12.3,1.3 L6.0,0.6 Z" fill="#f5e61a" stroke="#e4c61c" stroke-width="0.6"/><path transform="rotate(238)" d="M6.0,-0.6 L12.3,-1.3 Q13.5,0 12.3,1.3 L6.0,0.6 Z" fill="#f5e61a" stroke="#e4c61c" stroke-width="0.6"/><circle r="6.1" fill="#f5e61a" stroke="#f7a41c" stroke-width="0.9"/></g><g transform="translate(2.00,14.90) scale(0.925,0.885)" stroke="#2c5fb4" stroke-width="1.99" stroke-linejoin="round" stroke-linecap="round"><path d="M6.5,16 C2.5,16.3 0.3,13.5 0.8,10.8 C1.2,8 3.5,6.6 5.6,7.2 C5.6,3.5 8.5,0.7 12,0.8 C15.5,0.8 17.8,3 18.2,5.8 C21.5,5.6 23.6,8.2 23.4,11 C23.2,14 20.8,16.2 17.5,16 Z" fill="#cfcfcf"/><path d="M18.4,5.8 C15.9,6.1 13.9,8 14.2,10.6" fill="none"/></g><line x1="10.3" y1="30.3" x2="9.0" y2="35.5" stroke="#4876bd" stroke-width="2.3"/><line x1="14.3" y1="30.3" x2="13.0" y2="35.5" stroke="#4876bd" stroke-width="2.3"/></g>
<g transform="translate(369.35,98.0)"><path d="M17.40,3.00 A12.75,12.75 0 1 0 16.60,28.40 A17.43,17.43 0 0 1 17.40,3.00 Z" fill="#f9f9f9" stroke="#000" stroke-width="1.6" stroke-linejoin="round"/><g transform="translate(8.40,14.00) scale(0.867,0.885)" stroke="#2d4d70" stroke-width="2.06" stroke-linejoin="round" stroke-linecap="round"><path d="M6.5,16 C2.5,16.3 0.3,13.5 0.8,10.8 C1.2,8 3.5,6.6 5.6,7.2 C5.6,3.5 8.5,0.7 12,0.8 C15.5,0.8 17.8,3 18.2,5.8 C21.5,5.6 23.6,8.2 23.4,11 C23.2,14 20.8,16.2 17.5,16 Z" fill="#cfcfcf"/><path d="M18.4,5.8 C15.9,6.1 13.9,8 14.2,10.6" fill="none"/></g><line x1="20.2" y1="29.3" x2="18.9" y2="35.5" stroke="#2d4d70" stroke-width="2.3"/><line x1="24.5" y1="29.3" x2="23.2" y2="35.5" stroke="#2d4d70" stroke-width="2.3"/></g>
<g transform="translate(403.88,98.0)"><path d="M21.40,3.00 A12.68,12.68 0 1 0 21.40,28.30 A17.52,17.52 0 0 1 21.40,3.00 Z" fill="#f9f9f9" stroke="#000" stroke-width="1.6" stroke-linejoin="round"/><line x1="-2" y1="17.6" x2="34.7" y2="17.6" stroke="#2d4d70" stroke-width="1.7"/><line x1="-0.6" y1="20.8" x2="33.9" y2="20.8" stroke="#2d4d70" stroke-width="1.3"/><line x1="1.3" y1="25.5" x2="33" y2="25.5" stroke="#2d4d70" stroke-width="2.6"/></g>
<g transform="translate(438.41,98.0)"><g clip-path="url(#fogclip)"><g transform="translate(16.90,15.00)"><path transform="rotate(-77)" d="M6.0,-0.6 L12.3,-1.3 Q13.5,0 12.3,1.3 L6.0,0.6 Z" fill="#f5e61a" stroke="#e4c61c" stroke-width="0.6"/><path transform="rotate(-32)" d="M6.0,-0.6 L12.3,-1.3 Q13.5,0 12.3,1.3 L6.0,0.6 Z" fill="#f5e61a" stroke="#e4c61c" stroke-width="0.6"/><path transform="rotate(13)" d="M6.0,-0.6 L12.3,-1.3 Q13.5,0 12.3,1.3 L6.0,0.6 Z" fill="#f5e61a" stroke="#e4c61c" stroke-width="0.6"/><path transform="rotate(58)" d="M6.0,-0.6 L12.3,-1.3 Q13.5,0 12.3,1.3 L6.0,0.6 Z" fill="#f5e61a" stroke="#e4c61c" stroke-width="0.6"/><path transform="rotate(103)" d="M6.0,-0.6 L12.3,-1.3 Q13.5,0 12.3,1.3 L6.0,0.6 Z" fill="#f5e61a" stroke="#e4c61c" stroke-width="0.6"/><path transform="rotate(148)" d="M6.0,-0.6 L12.3,-1.3 Q13.5,0 12.3,1.3 L6.0,0.6 Z" fill="#f5e61a" stroke="#e4c61c" stroke-width="0.6"/><path transform="rotate(193)" d="M6.0,-0.6 L12.3,-1.3 Q13.5,0 12.3,1.3 L6.0,0.6 Z" fill="#f5e61a" stroke="#e4c61c" stroke-width="0.6"/><path transform="rotate(238)" d="M6.0,-0.6 L12.3,-1.3 Q13.5,0 12.3,1.3 L6.0,0.6 Z" fill="#f5e61a" stroke="#e4c61c" stroke-width="0.6"/><circle r="6.1" fill="#f5e61a" stroke="#f7a41c" stroke-width="0.9"/></g></g><rect x="0" y="19.5" width="33.4" height="8.2" fill="#ffffff" opacity="0.45"/><path d="M7,21.4h3M12.5,21.4h7M22,21.4h3M14.5,25.2h2.6M23,25.2h2.6" stroke="#f0dc3a" stroke-width="1.1"/><line x1="-1.5" y1="19.6" x2="34.3" y2="19.6" stroke="#5b84c0" stroke-width="2.1"/><line x1="-0.2" y1="23.2" x2="33.3" y2="23.2" stroke="#5b84c0" stroke-width="1.9"/><line x1="1.7" y1="27.6" x2="33.3" y2="27.6" stroke="#5b84c0" stroke-width="3.0"/></g>
<g transform="translate(472.95,98.0)"><g transform="translate(-1.10,6.00) scale(1.429,1.291)" stroke="#2c5fb4" stroke-width="1.32" stroke-linejoin="round" stroke-linecap="round"><path d="M6.5,16 C2.5,16.3 0.3,13.5 0.8,10.8 C1.2,8 3.5,6.6 5.6,7.2 C5.6,3.5 8.5,0.7 12,0.8 C15.5,0.8 17.8,3 18.2,5.8 C21.5,5.6 23.6,8.2 23.4,11 C23.2,14 20.8,16.2 17.5,16 Z" fill="#cfcfcf"/><path d="M18.4,5.8 C15.9,6.1 13.9,8 14.2,10.6" fill="none"/></g><g transform="translate(7.90,12.90) scale(0.938,0.933)" stroke="#2c5fb4" stroke-width="1.92" stroke-linejoin="round" stroke-linecap="round"><path d="M6.5,16 C2.5,16.3 0.3,13.5 0.8,10.8 C1.2,8 3.5,6.6 5.6,7.2 C5.6,3.5 8.5,0.7 12,0.8 C15.5,0.8 17.8,3 18.2,5.8 C21.5,5.6 23.6,8.2 23.4,11 C23.2,14 20.8,16.2 17.5,16 Z" fill="#ffffff"/><path d="M18.4,5.8 C15.9,6.1 13.9,8 14.2,10.6" fill="none"/></g></g>
<g transform="translate(507.49,98.0)"><g transform="translate(0.00,6.00) scale(1.429,1.291)" stroke="#2d4d70" stroke-width="1.32" stroke-linejoin="round" stroke-linecap="round"><path d="M6.5,16 C2.5,16.3 0.3,13.5 0.8,10.8 C1.2,8 3.5,6.6 5.6,7.2 C5.6,3.5 8.5,0.7 12,0.8 C15.5,0.8 17.8,3 18.2,5.8 C21.5,5.6 23.6,8.2 23.4,11 C23.2,14 20.8,16.2 17.5,16 Z" fill="#cfcfcf"/><path d="M18.4,5.8 C15.9,6.1 13.9,8 14.2,10.6" fill="none"/></g><g transform="translate(9.00,12.90) scale(0.938,0.933)" stroke="#2d4d70" stroke-width="1.92" stroke-linejoin="round" stroke-linecap="round"><path d="M6.5,16 C2.5,16.3 0.3,13.5 0.8,10.8 C1.2,8 3.5,6.6 5.6,7.2 C5.6,3.5 8.5,0.7 12,0.8 C15.5,0.8 17.8,3 18.2,5.8 C21.5,5.6 23.6,8.2 23.4,11 C23.2,14 20.8,16.2 17.5,16 Z" fill="#ffffff"/><path d="M18.4,5.8 C15.9,6.1 13.9,8 14.2,10.6" fill="none"/></g><line x1="13.3" y1="29.5" x2="12.0" y2="35.7" stroke="#2d4d70" stroke-width="2.3"/><line x1="17.9" y1="29.5" x2="16.6" y2="35.7" stroke="#2d4d70" stroke-width="2.3"/></g>
<g transform="translate(542.02,98.0)"><path d="M17.40,3.00 A12.75,12.75 0 1 0 16.60,28.40 A17.43,17.43 0 0 1 17.40,3.00 Z" fill="#f9f9f9" stroke="#000" stroke-width="1.6" stroke-linejoin="round"/><g transform="translate(8.10,12.30) scale(1.012,1.000)" stroke="#2d4d70" stroke-width="1.79" stroke-linejoin="round" stroke-linecap="round"><path d="M6.5,16 C2.5,16.3 0.3,13.5 0.8,10.8 C1.2,8 3.5,6.6 5.6,7.2 C5.6,3.5 8.5,0.7 12,0.8 C15.5,0.8 17.8,3 18.2,5.8 C21.5,5.6 23.6,8.2 23.4,11 C23.2,14 20.8,16.2 17.5,16 Z" fill="#cfcfcf"/><path d="M18.4,5.8 C15.9,6.1 13.9,8 14.2,10.6" fill="none"/></g></g>
<g transform="translate(576.55,98.0)"><g transform="translate(14.40,15.00)"><path transform="rotate(-77)" d="M6.0,-0.6 L12.3,-1.3 Q13.5,0 12.3,1.3 L6.0,0.6 Z" fill="#f5e61a" stroke="#e4c61c" stroke-width="0.6"/><path transform="rotate(-32)" d="M6.0,-0.6 L12.3,-1.3 Q13.5,0 12.3,1.3 L6.0,0.6 Z" fill="#f5e61a" stroke="#e4c61c" stroke-width="0.6"/><path transform="rotate(13)" d="M6.0,-0.6 L12.3,-1.3 Q13.5,0 12.3,1.3 L6.0,0.6 Z" fill="#f5e61a" stroke="#e4c61c" stroke-width="0.6"/><path transform="rotate(58)" d="M6.0,-0.6 L12.3,-1.3 Q13.5,0 12.3,1.3 L6.0,0.6 Z" fill="#f5e61a" stroke="#e4c61c" stroke-width="0.6"/><path transform="rotate(103)" d="M6.0,-0.6 L12.3,-1.3 Q13.5,0 12.3,1.3 L6.0,0.6 Z" fill="#f5e61a" stroke="#e4c61c" stroke-width="0.6"/><path transform="rotate(148)" d="M6.0,-0.6 L12.3,-1.3 Q13.5,0 12.3,1.3 L6.0,0.6 Z" fill="#f5e61a" stroke="#e4c61c" stroke-width="0.6"/><path transform="rotate(193)" d="M6.0,-0.6 L12.3,-1.3 Q13.5,0 12.3,1.3 L6.0,0.6 Z" fill="#f5e61a" stroke="#e4c61c" stroke-width="0.6"/><path transform="rotate(238)" d="M6.0,-0.6 L12.3,-1.3 Q13.5,0 12.3,1.3 L6.0,0.6 Z" fill="#f5e61a" stroke="#e4c61c" stroke-width="0.6"/><circle r="6.1" fill="#f5e61a" stroke="#f7a41c" stroke-width="0.9"/></g><g transform="translate(13.60,15.40) scale(0.767,0.745)" stroke="#2c5fb4" stroke-width="2.25" stroke-linejoin="round" stroke-linecap="round"><path d="M6.5,16 C2.5,16.3 0.3,13.5 0.8,10.8 C1.2,8 3.5,6.6 5.6,7.2 C5.6,3.5 8.5,0.7 12,0.8 C15.5,0.8 17.8,3 18.2,5.8 C21.5,5.6 23.6,8.2 23.4,11 C23.2,14 20.8,16.2 17.5,16 Z" fill="#ffffff"/><path d="M18.4,5.8 C15.9,6.1 13.9,8 14.2,10.6" fill="none"/></g></g>
<g transform="translate(611.09,98.0)"><g transform="translate(14.40,15.00)"><path transform="rotate(-77)" d="M6.0,-0.6 L12.3,-1.3 Q13.5,0 12.3,1.3 L6.0,0.6 Z" fill="#f5e61a" stroke="#e4c61c" stroke-width="0.6"/><path transform="rotate(-32)" d="M6.0,-0.6 L12.3,-1.3 Q13.5,0 12.3,1.3 L6.0,0.6 Z" fill="#f5e61a" stroke="#e4c61c" stroke-width="0.6"/><path transform="rotate(13)" d="M6.0,-0.6 L12.3,-1.3 Q13.5,0 12.3,1.3 L6.0,0.6 Z" fill="#f5e61a" stroke="#e4c61c" stroke-width="0.6"/><path transform="rotate(58)" d="M6.0,-0.6 L12.3,-1.3 Q13.5,0 12.3,1.3 L6.0,0.6 Z" fill="#f5e61a" stroke="#e4c61c" stroke-width="0.6"/><path transform="rotate(103)" d="M6.0,-0.6 L12.3,-1.3 Q13.5,0 12.3,1.3 L6.0,0.6 Z" fill="#f5e61a" stroke="#e4c61c" stroke-width="0.6"/><path transform="rotate(148)" d="M6.0,-0.6 L12.3,-1.3 Q13.5,0 12.3,1.3 L6.0,0.6 Z" fill="#f5e61a" stroke="#e4c61c" stroke-width="0.6"/><path transform="rotate(193)" d="M6.0,-0.6 L12.3,-1.3 Q13.5,0 12.3,1.3 L6.0,0.6 Z" fill="#f5e61a" stroke="#e4c61c" stroke-width="0.6"/><path transform="rotate(238)" d="M6.0,-0.6 L12.3,-1.3 Q13.5,0 12.3,1.3 L6.0,0.6 Z" fill="#f5e61a" stroke="#e4c61c" stroke-width="0.6"/><circle r="6.1" fill="#f5e61a" stroke="#f7a41c" stroke-width="0.9"/></g><g transform="translate(13.60,15.40) scale(0.767,0.745)" stroke="#2c5fb4" stroke-width="2.25" stroke-linejoin="round" stroke-linecap="round"><path d="M6.5,16 C2.5,16.3 0.3,13.5 0.8,10.8 C1.2,8 3.5,6.6 5.6,7.2 C5.6,3.5 8.5,0.7 12,0.8 C15.5,0.8 17.8,3 18.2,5.8 C21.5,5.6 23.6,8.2 23.4,11 C23.2,14 20.8,16.2 17.5,16 Z" fill="#ffffff"/><path d="M18.4,5.8 C15.9,6.1 13.9,8 14.2,10.6" fill="none"/></g></g>
<g transform="translate(645.62,98.0)"><path d="M21.00,3.00 A12.83,12.83 0 1 0 20.40,28.40 A17.01,17.01 0 0 1 21.00,3.00 Z" fill="#f9f9f9" stroke="#000" stroke-width="1.6" stroke-linejoin="round"/><g transform="translate(11.90,16.10) scale(0.742,0.679)" stroke="#2d4d70" stroke-width="2.25" stroke-linejoin="round" stroke-linecap="round"><path d="M6.5,16 C2.5,16.3 0.3,13.5 0.8,10.8 C1.2,8 3.5,6.6 5.6,7.2 C5.6,3.5 8.5,0.7 12,0.8 C15.5,0.8 17.8,3 18.2,5.8 C21.5,5.6 23.6,8.2 23.4,11 C23.2,14 20.8,16.2 17.5,16 Z" fill="#cfcfcf"/><path d="M18.4,5.8 C15.9,6.1 13.9,8 14.2,10.6" fill="none"/></g></g>
<g transform="translate(680.16,98.0)"><path d="M24.40,3.10 A12.65,12.65 0 1 0 24.40,28.20 A16.86,16.86 0 0 1 24.40,3.10 Z" fill="#f9f9f9" stroke="#000" stroke-width="1.8" stroke-linejoin="round"/></g>
<g transform="translate(714.69,98.0)"><g transform="translate(16.25,15.65)"><path transform="rotate(-77)" d="M6.0,-0.6 L12.3,-1.3 Q13.5,0 12.3,1.3 L6.0,0.6 Z" fill="#f5e61a" stroke="#e4c61c" stroke-width="0.6"/><path transform="rotate(-32)" d="M6.0,-0.6 L12.3,-1.3 Q13.5,0 12.3,1.3 L6.0,0.6 Z" fill="#f5e61a" stroke="#e4c61c" stroke-width="0.6"/><path transform="rotate(13)" d="M6.0,-0.6 L12.3,-1.3 Q13.5,0 12.3,1.3 L6.0,0.6 Z" fill="#f5e61a" stroke="#e4c61c" stroke-width="0.6"/><path transform="rotate(58)" d="M6.0,-0.6 L12.3,-1.3 Q13.5,0 12.3,1.3 L6.0,0.6 Z" fill="#f5e61a" stroke="#e4c61c" stroke-width="0.6"/><path transform="rotate(103)" d="M6.0,-0.6 L12.3,-1.3 Q13.5,0 12.3,1.3 L6.0,0.6 Z" fill="#f5e61a" stroke="#e4c61c" stroke-width="0.6"/><path transform="rotate(148)" d="M6.0,-0.6 L12.3,-1.3 Q13.5,0 12.3,1.3 L6.0,0.6 Z" fill="#f5e61a" stroke="#e4c61c" stroke-width="0.6"/><path transform="rotate(193)" d="M6.0,-0.6 L12.3,-1.3 Q13.5,0 12.3,1.3 L6.0,0.6 Z" fill="#f5e61a" stroke="#e4c61c" stroke-width="0.6"/><path transform="rotate(238)" d="M6.0,-0.6 L12.3,-1.3 Q13.5,0 12.3,1.3 L6.0,0.6 Z" fill="#f5e61a" stroke="#e4c61c" stroke-width="0.6"/><circle r="6.1" fill="#f5e61a" stroke="#f7a41c" stroke-width="0.9"/></g></g>
<g transform="translate(749.23,98.0)"><g transform="translate(14.40,15.00)"><path transform="rotate(-77)" d="M6.0,-0.6 L12.3,-1.3 Q13.5,0 12.3,1.3 L6.0,0.6 Z" fill="#f5e61a" stroke="#e4c61c" stroke-width="0.6"/><path transform="rotate(-32)" d="M6.0,-0.6 L12.3,-1.3 Q13.5,0 12.3,1.3 L6.0,0.6 Z" fill="#f5e61a" stroke="#e4c61c" stroke-width="0.6"/><path transform="rotate(13)" d="M6.0,-0.6 L12.3,-1.3 Q13.5,0 12.3,1.3 L6.0,0.6 Z" fill="#f5e61a" stroke="#e4c61c" stroke-width="0.6"/><path transform="rotate(58)" d="M6.0,-0.6 L12.3,-1.3 Q13.5,0 12.3,1.3 L6.0,0.6 Z" fill="#f5e61a" stroke="#e4c61c" stroke-width="0.6"/><path transform="rotate(103)" d="M6.0,-0.6 L12.3,-1.3 Q13.5,0 12.3,1.3 L6.0,0.6 Z" fill="#f5e61a" stroke="#e4c61c" stroke-width="0.6"/><path transform="rotate(148)" d="M6.0,-0.6 L12.3,-1.3 Q13.5,0 12.3,1.3 L6.0,0.6 Z" fill="#f5e61a" stroke="#e4c61c" stroke-width="0.6"/><path transform="rotate(193)" d="M6.0,-0.6 L12.3,-1.3 Q13.5,0 12.3,1.3 L6.0,0.6 Z" fill="#f5e61a" stroke="#e4c61c" stroke-width="0.6"/><path transform="rotate(238)" d="M6.0,-0.6 L12.3,-1.3 Q13.5,0 12.3,1.3 L6.0,0.6 Z" fill="#f5e61a" stroke="#e4c61c" stroke-width="0.6"/><circle r="6.1" fill="#f5e61a" stroke="#f7a41c" stroke-width="0.9"/></g><g transform="translate(13.60,15.40) scale(0.767,0.745)" stroke="#2c5fb4" stroke-width="2.25" stroke-linejoin="round" stroke-linecap="round"><path d="M6.5,16 C2.5,16.3 0.3,13.5 0.8,10.8 C1.2,8 3.5,6.6 5.6,7.2 C5.6,3.5 8.5,0.7 12,0.8 C15.5,0.8 17.8,3 18.2,5.8 C21.5,5.6 23.6,8.2 23.4,11 C23.2,14 20.8,16.2 17.5,16 Z" fill="#ffffff"/><path d="M18.4,5.8 C15.9,6.1 13.9,8 14.2,10.6" fill="none"/></g></g>
<g transform="translate(783.76,98.0)"><path d="M24.40,3.10 A12.65,12.65 0 1 0 24.40,28.20 A16.86,16.86 0 0 1 24.40,3.10 Z" fill="#f9f9f9" stroke="#000" stroke-width="1.8" stroke-linejoin="round"/></g>
<g transform="translate(818.30,98.0)"><path d="M21.00,3.00 A12.83,12.83 0 1 0 20.40,28.40 A17.01,17.01 0 0 1 21.00,3.00 Z" fill="#f9f9f9" stroke="#000" stroke-width="1.6" stroke-linejoin="round"/><g transform="translate(11.90,16.10) scale(0.742,0.679)" stroke="#2d4d70" stroke-width="2.25" stroke-linejoin="round" stroke-linecap="round"><path d="M6.5,16 C2.5,16.3 0.3,13.5 0.8,10.8 C1.2,8 3.5,6.6 5.6,7.2 C5.6,3.5 8.5,0.7 12,0.8 C15.5,0.8 17.8,3 18.2,5.8 C21.5,5.6 23.6,8.2 23.4,11 C23.2,14 20.8,16.2 17.5,16 Z" fill="#cfcfcf"/><path d="M18.4,5.8 C15.9,6.1 13.9,8 14.2,10.6" fill="none"/></g></g>
<g transform="translate(852.83,98.0)"><g transform="translate(21.40,14.90)"><path transform="rotate(-77)" d="M6.0,-0.6 L12.3,-1.3 Q13.5,0 12.3,1.3 L6.0,0.6 Z" fill="#f5e61a" stroke="#e4c61c" stroke-width="0.6"/><path transform="rotate(-32)" d="M6.0,-0.6 L12.3,-1.3 Q13.5,0 12.3,1.3 L6.0,0.6 Z" fill="#f5e61a" stroke="#e4c61c" stroke-width="0.6"/><path transform="rotate(13)" d="M6.0,-0.6 L12.3,-1.3 Q13.5,0 12.3,1.3 L6.0,0.6 Z" fill="#f5e61a" stroke="#e4c61c" stroke-width="0.6"/><path transform="rotate(58)" d="M6.0,-0.6 L12.3,-1.3 Q13.5,0 12.3,1.3 L6.0,0.6 Z" fill="#f5e61a" stroke="#e4c61c" stroke-width="0.6"/><path transform="rotate(103)" d="M6.0,-0.6 L12.3,-1.3 Q13.5,0 12.3,1.3 L6.0,0.6 Z" fill="#f5e61a" stroke="#e4c61c" stroke-width="0.6"/><path transform="rotate(148)" d="M6.0,-0.6 L12.3,-1.3 Q13.5,0 12.3,1.3 L6.0,0.6 Z" fill="#f5e61a" stroke="#e4c61c" stroke-width="0.6"/><path transform="rotate(193)" d="M6.0,-0.6 L12.3,-1.3 Q13.5,0 12.3,1.3 L6.0,0.6 Z" fill="#f5e61a" stroke="#e4c61c" stroke-width="0.6"/><path transform="rotate(238)" d="M6.0,-0.6 L12.3,-1.3 Q13.5,0 12.3,1.3 L6.0,0.6 Z" fill="#f5e61a" stroke="#e4c61c" stroke-width="0.6"/><circle r="6.1" fill="#f5e61a" stroke="#f7a41c" stroke-width="0.9"/></g><g transform="translate(1.00,14.90) scale(0.950,0.915)" stroke="#2c5fb4" stroke-width="1.93" stroke-linejoin="round" stroke-linecap="round"><path d="M6.5,16 C2.5,16.3 0.3,13.5 0.8,10.8 C1.2,8 3.5,6.6 5.6,7.2 C5.6,3.5 8.5,0.7 12,0.8 C15.5,0.8 17.8,3 18.2,5.8 C21.5,5.6 23.6,8.2 23.4,11 C23.2,14 20.8,16.2 17.5,16 Z" fill="#cfcfcf"/><path d="M18.4,5.8 C15.9,6.1 13.9,8 14.2,10.6" fill="none"/></g></g>
<g transform="translate(887.37,98.0)"><g transform="translate(21.40,14.90)"><path transform="rotate(-77)" d="M6.0,-0.6 L12.3,-1.3 Q13.5,0 12.3,1.3 L6.0,0.6 Z" fill="#f5e61a" stroke="#e4c61c" stroke-width="0.6"/><path transform="rotate(-32)" d="M6.0,-0.6 L12.3,-1.3 Q13.5,0 12.3,1.3 L6.0,0.6 Z" fill="#f5e61a" stroke="#e4c61c" stroke-width="0.6"/><path transform="rotate(13)" d="M6.0,-0.6 L12.3,-1.3 Q13.5,0 12.3,1.3 L6.0,0.6 Z" fill="#f5e61a" stroke="#e4c61c" stroke-width="0.6"/><path transform="rotate(58)" d="M6.0,-0.6 L12.3,-1.3 Q13.5,0 12.3,1.3 L6.0,0.6 Z" fill="#f5e61a" stroke="#e4c61c" stroke-width="0.6"/><path transform="rotate(103)" d="M6.0,-0.6 L12.3,-1.3 Q13.5,0 12.3,1.3 L6.0,0.6 Z" fill="#f5e61a" stroke="#e4c61c" stroke-width="0.6"/><path transform="rotate(148)" d="M6.0,-0.6 L12.3,-1.3 Q13.5,0 12.3,1.3 L6.0,0.6 Z" fill="#f5e61a" stroke="#e4c61c" stroke-width="0.6"/><path transform="rotate(193)" d="M6.0,-0.6 L12.3,-1.3 Q13.5,0 12.3,1.3 L6.0,0.6 Z" fill="#f5e61a" stroke="#e4c61c" stroke-width="0.6"/><path transform="rotate(238)" d="M6.0,-0.6 L12.3,-1.3 Q13.5,0 12.3,1.3 L6.0,0.6 Z" fill="#f5e61a" stroke="#e4c61c" stroke-width="0.6"/><circle r="6.1" fill="#f5e61a" stroke="#f7a41c" stroke-width="0.9"/></g><g transform="translate(1.00,14.90) scale(0.950,0.915)" stroke="#2c5fb4" stroke-width="1.93" stroke-linejoin="round" stroke-linecap="round"><path d="M6.5,16 C2.5,16.3 0.3,13.5 0.8,10.8 C1.2,8 3.5,6.6 5.6,7.2 C5.6,3.5 8.5,0.7 12,0.8 C15.5,0.8 17.8,3 18.2,5.8 C21.5,5.6 23.6,8.2 23.4,11 C23.2,14 20.8,16.2 17.5,16 Z" fill="#cfcfcf"/><path d="M18.4,5.8 C15.9,6.1 13.9,8 14.2,10.6" fill="none"/></g></g>
<g transform="translate(921.90,98.0)"><path d="M17.40,3.00 A12.75,12.75 0 1 0 16.60,28.40 A17.43,17.43 0 0 1 17.40,3.00 Z" fill="#f9f9f9" stroke="#000" stroke-width="1.6" stroke-linejoin="round"/><g transform="translate(8.10,12.30) scale(1.012,1.000)" stroke="#2d4d70" stroke-width="1.79" stroke-linejoin="round" stroke-linecap="round"><path d="M6.5,16 C2.5,16.3 0.3,13.5 0.8,10.8 C1.2,8 3.5,6.6 5.6,7.2 C5.6,3.5 8.5,0.7 12,0.8 C15.5,0.8 17.8,3 18.2,5.8 C21.5,5.6 23.6,8.2 23.4,11 C23.2,14 20.8,16.2 17.5,16 Z" fill="#cfcfcf"/><path d="M18.4,5.8 C15.9,6.1 13.9,8 14.2,10.6" fill="none"/></g></g>
<g transform="translate(956.44,98.0)"><path d="M17.40,3.00 A12.75,12.75 0 1 0 16.60,28.40 A17.43,17.43 0 0 1 17.40,3.00 Z" fill="#f9f9f9" stroke="#000" stroke-width="1.6" stroke-linejoin="round"/><g transform="translate(8.40,14.00) scale(0.867,0.885)" stroke="#2d4d70" stroke-width="2.06" stroke-linejoin="round" stroke-linecap="round"><path d="M6.5,16 C2.5,16.3 0.3,13.5 0.8,10.8 C1.2,8 3.5,6.6 5.6,7.2 C5.6,3.5 8.5,0.7 12,0.8 C15.5,0.8 17.8,3 18.2,5.8 C21.5,5.6 23.6,8.2 23.4,11 C23.2,14 20.8,16.2 17.5,16 Z" fill="#cfcfcf"/><path d="M18.4,5.8 C15.9,6.1 13.9,8 14.2,10.6" fill="none"/></g><line x1="20.2" y1="29.3" x2="18.9" y2="35.5" stroke="#2d4d70" stroke-width="2.3"/><line x1="24.5" y1="29.3" x2="23.2" y2="35.5" stroke="#2d4d70" stroke-width="2.3"/></g>
<g transform="translate(990.97,98.0)"><g transform="translate(22.10,14.90)"><path transform="rotate(-77)" d="M6.0,-0.6 L12.3,-1.3 Q13.5,0 12.3,1.3 L6.0,0.6 Z" fill="#f5e61a" stroke="#e4c61c" stroke-width="0.6"/><path transform="rotate(-32)" d="M6.0,-0.6 L12.3,-1.3 Q13.5,0 12.3,1.3 L6.0,0.6 Z" fill="#f5e61a" stroke="#e4c61c" stroke-width="0.6"/><path transform="rotate(13)" d="M6.0,-0.6 L12.3,-1.3 Q13.5,0 12.3,1.3 L6.0,0.6 Z" fill="#f5e61a" stroke="#e4c61c" stroke-width="0.6"/><path transform="rotate(58)" d="M6.0,-0.6 L12.3,-1.3 Q13.5,0 12.3,1.3 L6.0,0.6 Z" fill="#f5e61a" stroke="#e4c61c" stroke-width="0.6"/><path transform="rotate(103)" d="M6.0,-0.6 L12.3,-1.3 Q13.5,0 12.3,1.3 L6.0,0.6 Z" fill="#f5e61a" stroke="#e4c61c" stroke-width="0.6"/><path transform="rotate(148)" d="M6.0,-0.6 L12.3,-1.3 Q13.5,0 12.3,1.3 L6.0,0.6 Z" fill="#f5e61a" stroke="#e4c61c" stroke-width="0.6"/><path transform="rotate(193)" d="M6.0,-0.6 L12.3,-1.3 Q13.5,0 12.3,1.3 L6.0,0.6 Z" fill="#f5e61a" stroke="#e4c61c" stroke-width="0.6"/><path transform="rotate(238)" d="M6.0,-0.6 L12.3,-1.3 Q13.5,0 12.3,1.3 L6.0,0.6 Z" fill="#f5e61a" stroke="#e4c61c" stroke-width="0.6"/><circle r="6.1" fill="#f5e61a" stroke="#f7a41c" stroke-width="0.9"/></g><g transform="translate(2.00,14.90) scale(0.925,0.885)" stroke="#2c5fb4" stroke-width="1.99" stroke-linejoin="round" stroke-linecap="round"><path d="M6.5,16 C2.5,16.3 0.3,13.5 0.8,10.8 C1.2,8 3.5,6.6 5.6,7.2 C5.6,3.5 8.5,0.7 12,0.8 C15.5,0.8 17.8,3 18.2,5.8 C21.5,5.6 23.6,8.2 23.4,11 C23.2,14 20.8,16.2 17.5,16 Z" fill="#cfcfcf"/><path d="M18.4,5.8 C15.9,6.1 13.9,8 14.2,10.6" fill="none"/></g><line x1="10.3" y1="30.3" x2="9.0" y2="35.5" stroke="#4876bd" stroke-width="2.3"/><line x1="14.3" y1="30.3" x2="13.0" y2="35.5" stroke="#4876bd" stroke-width="2.3"/></g>
<g transform="translate(1025.51,98.0)"><g transform="translate(22.10,14.90)"><path transform="rotate(-77)" d="M6.0,-0.6 L12.3,-1.3 Q13.5,0 12.3,1.3 L6.0,0.6 Z" fill="#f5e61a" stroke="#e4c61c" stroke-width="0.6"/><path transform="rotate(-32)" d="M6.0,-0.6 L12.3,-1.3 Q13.5,0 12.3,1.3 L6.0,0.6 Z" fill="#f5e61a" stroke="#e4c61c" stroke-width="0.6"/><path transform="rotate(13)" d="M6.0,-0.6 L12.3,-1.3 Q13.5,0 12.3,1.3 L6.0,0.6 Z" fill="#f5e61a" stroke="#e4c61c" stroke-width="0.6"/><path transform="rotate(58)" d="M6.0,-0.6 L12.3,-1.3 Q13.5,0 12.3,1.3 L6.0,0.6 Z" fill="#f5e61a" stroke="#e4c61c" stroke-width="0.6"/><path transform="rotate(103)" d="M6.0,-0.6 L12.3,-1.3 Q13.5,0 12.3,1.3 L6.0,0.6 Z" fill="#f5e61a" stroke="#e4c61c" stroke-width="0.6"/><path transform="rotate(148)" d="M6.0,-0.6 L12.3,-1.3 Q13.5,0 12.3,1.3 L6.0,0.6 Z" fill="#f5e61a" stroke="#e4c61c" stroke-width="0.6"/><path transform="rotate(193)" d="M6.0,-0.6 L12.3,-1.3 Q13.5,0 12.3,1.3 L6.0,0.6 Z" fill="#f5e61a" stroke="#e4c61c" stroke-width="0.6"/><path transform="rotate(238)" d="M6.0,-0.6 L12.3,-1.3 Q13.5,0 12.3,1.3 L6.0,0.6 Z" fill="#f5e61a" stroke="#e4c61c" stroke-width="0.6"/><circle r="6.1" fill="#f5e61a" stroke="#f7a41c" stroke-width="0.9"/></g><g transform="translate(2.00,14.90) scale(0.925,0.885)" stroke="#2c5fb4" stroke-width="1.99" stroke-linejoin="round" stroke-linecap="round"><path d="M6.5,16 C2.5,16.3 0.3,13.5 0.8,10.8 C1.2,8 3.5,6.6 5.6,7.2 C5.6,3.5 8.5,0.7 12,0.8 C15.5,0.8 17.8,3 18.2,5.8 C21.5,5.6 23.6,8.2 23.4,11 C23.2,14 20.8,16.2 17.5,16 Z" fill="#cfcfcf"/><path d="M18.4,5.8 C15.9,6.1 13.9,8 14.2,10.6" fill="none"/></g><line x1="10.3" y1="30.3" x2="9.0" y2="35.5" stroke="#4876bd" stroke-width="2.3"/><line x1="14.3" y1="30.3" x2="13.0" y2="35.5" stroke="#4876bd" stroke-width="2.3"/></g>
<g transform="translate(1060.04,98.0)"><path d="M17.40,3.00 A12.75,12.75 0 1 0 16.60,28.40 A17.43,17.43 0 0 1 17.40,3.00 Z" fill="#f9f9f9" stroke="#000" stroke-width="1.6" stroke-linejoin="round"/><g transform="translate(8.10,12.30) scale(1.012,1.000)" stroke="#2d4d70" stroke-width="1.79" stroke-linejoin="round" stroke-linecap="round"><path d="M6.5,16 C2.5,16.3 0.3,13.5 0.8,10.8 C1.2,8 3.5,6.6 5.6,7.2 C5.6,3.5 8.5,0.7 12,0.8 C15.5,0.8 17.8,3 18.2,5.8 C21.5,5.6 23.6,8.2 23.4,11 C23.2,14 20.8,16.2 17.5,16 Z" fill="#cfcfcf"/><path d="M18.4,5.8 C15.9,6.1 13.9,8 14.2,10.6" fill="none"/></g></g>
<g stroke="#000" stroke-width="1.85" fill="none" stroke-linecap="butt" stroke-linejoin="miter">
<path d="M117.4,161.6L135.2,144.6M131.9,147.8L136.4,150.3"/>
<circle cx="143.6" cy="153.1" r="3.15" stroke-width="1.6"/>
<circle cx="160.8" cy="153.1" r="3.15" stroke-width="1.6"/>
<circle cx="178.1" cy="153.1" r="3.15" stroke-width="1.6"/>
<path d="M204.6,145.0L186.1,161.2M189.6,158.2L185.2,155.5"/>
<path d="M216.5,141.4L208.8,164.8M210.2,160.4L205.1,160.3"/>
<path d="M239.8,145.8L220.0,160.4M223.7,157.7L219.6,154.7"/>
<path d="M259.0,149.7L235.3,156.5M239.8,155.2L236.9,150.9"/>
<path d="M276.6,154.7L252.2,151.5M256.8,152.1L255.9,147.0"/>
<circle cx="281.7" cy="153.1" r="3.15" stroke-width="1.6"/>
<circle cx="299.0" cy="153.1" r="3.15" stroke-width="1.6"/>
<circle cx="316.2" cy="153.1" r="3.15" stroke-width="1.6"/>
<path d="M321.4,155.1L345.7,151.1M341.1,151.9L343.4,156.5"/>
<path d="M341.6,144.9L360.0,161.3M356.5,158.2L354.4,162.9"/>
<path d="M355.8,151.7L380.3,154.5M375.7,154.0L376.6,159.0"/>
<path d="M382.9,165.2L387.7,141.0M386.8,145.6L391.9,145.0"/>
<path d="M396.7,163.9L408.5,142.3M406.3,146.4L411.3,147.4"/>
<path d="M430.8,158.7L408.9,147.5M413.0,149.6L413.9,144.5"/>
<circle cx="437.1" cy="153.1" r="3.15" stroke-width="1.6"/>
<circle cx="454.4" cy="153.1" r="3.15" stroke-width="1.6"/>
<path d="M476.8,141.9L466.5,164.3M468.5,160.1L463.3,159.5"/>
<path d="M495.2,142.5L482.7,163.7M485.0,159.7L480.0,158.5"/>
<path d="M514.5,144.0L497.9,162.2M501.0,158.8L496.3,156.6"/>
<path d="M535.4,150.2L511.5,156.0M516.0,154.9L513.3,150.5"/>
<path d="M552.8,155.2L528.6,151.0M533.1,151.8L532.5,146.7"/>
<path d="M566.2,162.2L549.7,144.0M552.8,147.4L555.4,143.0"/>
<circle cx="575.3" cy="153.1" r="3.15" stroke-width="1.6"/>
<circle cx="592.5" cy="153.1" r="3.15" stroke-width="1.6"/>
<path d="M619.9,146.0L599.7,160.2M603.5,157.5L599.4,154.4"/>
<path d="M639.3,151.5L614.9,154.7M619.4,154.1L617.3,149.4"/>
<circle cx="644.3" cy="153.1" r="3.15" stroke-width="1.6"/>
<circle cx="661.6" cy="153.1" r="3.15" stroke-width="1.6"/>
<circle cx="678.9" cy="153.1" r="3.15" stroke-width="1.6"/>
<path d="M708.3,154.6L683.9,151.6M688.5,152.2L687.6,147.1"/>
<path d="M725.5,155.0L701.2,151.2M705.8,151.9L705.1,146.8"/>
<circle cx="730.7" cy="153.1" r="3.15" stroke-width="1.6"/>
<path d="M757.3,145.1L738.6,161.1M742.1,158.1L737.7,155.4"/>
<path d="M774.5,145.1L755.9,161.1M759.4,158.1L755.0,155.4"/>
<path d="M791.8,145.1L773.1,161.1M776.6,158.1L772.3,155.4"/>
<path d="M808.0,144.0L791.5,162.2M794.6,158.8L789.9,156.7"/>
<path d="M824.4,143.3L809.6,162.9M812.4,159.3L807.5,157.5"/>
<path d="M841.4,143.1L827.1,163.1M829.8,159.4L824.9,157.7"/>
<path d="M858.4,142.9L844.7,163.3M847.2,159.5L842.3,158.0"/>
<path d="M875.5,142.8L862.1,163.4M864.6,159.5L859.7,158.2"/>
<path d="M892.9,142.9L879.2,163.3M881.8,159.5L876.8,158.0"/>
<path d="M911.7,144.0L895.0,162.2L885.7,157.8"/>
<path d="M928.5,143.7L912.7,162.5M915.7,159.0L910.9,157.0"/>
<path d="M943.6,142.2L932.1,164.0M934.3,159.9L929.2,158.9"/>
<path d="M962.3,143.1L948.0,163.1M950.7,159.4L945.8,157.7"/>
<path d="M979.6,143.1L965.2,163.1M967.9,159.4L963.0,157.7"/>
<path d="M996.6,142.9L982.8,163.3M985.4,159.5L980.4,158.0"/>
<path d="M1012.5,142.1L1001.4,164.1M1003.5,159.9L998.4,159.1"/>
<path d="M1030.2,142.3L1018.2,163.9M1020.5,159.8L1015.4,158.8"/>
<path d="M1048.0,142.7L1035.0,163.5M1037.4,159.6L1032.4,158.3"/>
<path d="M1065.3,142.7L1052.2,163.5M1054.7,159.6L1049.7,158.3"/>
<path d="M1080.1,141.5L1071.9,164.7M1073.4,160.3L1068.3,160.2"/>
<path d="M1095.6,141.0L1090.9,165.2M1091.8,160.6L1086.7,161.2"/>
</g>
<path d="M127.6,295.4C130.1,295.4 140.3,295.4 145.0,295.3C149.7,295.2 157.1,295.3 160.6,295.0C164.1,294.7 167.8,293.6 170.0,293.0C172.2,292.4 173.9,292.3 176.4,290.5C178.9,288.7 184.5,284.1 187.7,280.3C190.9,276.5 195.8,267.8 199.0,263.4C202.2,259.0 207.3,251.8 210.0,249.0C212.7,246.2 216.1,243.8 218.2,243.6C220.3,243.4 222.9,244.9 225.0,247.5C227.1,250.1 230.5,258.8 232.9,262.3C235.3,265.8 239.3,270.3 241.9,272.4C244.5,274.5 247.7,275.8 250.9,276.9C254.1,278.0 260.7,279.5 264.5,279.9C268.3,280.3 274.2,279.7 278.0,279.9C281.8,280.1 288.1,281.1 291.6,281.4C295.1,281.7 299.9,282.4 302.8,282.1C305.7,281.8 309.0,280.6 311.9,279.2C314.8,277.8 320.0,274.4 323.2,272.4C326.4,270.4 331.8,266.8 334.4,265.4C337.0,264.0 339.7,262.8 341.5,262.2C343.3,261.6 345.4,261.1 347.0,261.2C348.6,261.3 350.2,261.5 352.5,262.6C354.8,263.7 359.7,266.0 363.5,269.0C367.3,272.0 374.8,280.2 379.3,283.7C383.8,287.2 391.6,291.8 395.1,293.9C398.6,296.0 401.3,297.5 404.2,298.4C407.1,299.3 412.0,299.7 415.5,300.6C419.0,301.5 425.5,304.0 429.0,305.1C432.5,306.2 437.4,307.9 440.3,308.1C443.2,308.3 446.7,307.7 449.3,306.3C451.9,304.9 455.5,301.9 458.4,298.4C461.3,294.9 466.4,286.0 469.6,281.4C472.8,276.8 478.0,268.4 480.9,265.6C483.8,262.8 487.4,262.0 490.0,261.8C492.6,261.6 496.4,262.7 499.0,264.5C501.6,266.3 505.1,271.9 508.0,274.7C510.9,277.5 516.1,282.0 519.3,284.4C522.5,286.8 527.4,289.4 530.6,291.6C533.8,293.8 538.1,298.5 541.9,300.2C545.7,301.9 553.9,301.9 557.7,303.3C561.5,304.7 565.8,308.5 569.0,310.1C572.2,311.7 577.5,314.5 580.2,314.6C582.9,314.7 585.7,313.4 587.9,310.8C590.1,308.2 593.7,300.7 595.8,296.1C597.9,291.5 600.7,283.1 602.6,278.0C604.5,272.9 607.7,263.9 609.3,260.0C610.9,256.1 612.3,253.7 613.9,250.8C615.5,247.9 618.8,241.4 620.6,239.5C622.4,237.6 624.7,237.7 626.3,237.7C627.9,237.7 630.2,238.0 632.0,239.5C633.8,241.0 637.1,245.6 638.7,248.5C640.3,251.4 641.6,256.8 643.2,260.0C644.8,263.2 648.1,268.1 650.0,271.3C651.9,274.5 653.8,278.9 656.7,282.6C659.6,286.3 666.9,293.9 670.3,297.2C673.7,300.5 676.8,304.2 680.5,305.8C684.2,307.4 692.6,307.6 696.3,308.5C700.0,309.4 703.9,311.5 706.4,312.4C708.9,313.3 712.2,314.8 714.3,314.9C716.4,315.0 719.3,314.4 721.1,313.0C722.9,311.6 724.9,308.5 726.7,305.1C728.5,301.7 731.6,294.1 733.5,289.3C735.4,284.5 738.5,275.5 740.3,271.3C742.1,267.1 744.6,263.2 745.9,260.0C747.2,256.8 747.9,251.7 749.3,248.5C750.7,245.3 754.4,239.2 756.0,237.2C757.6,235.2 759.3,234.9 760.6,234.4C761.9,233.9 763.9,233.4 765.5,233.6C767.1,233.8 770.0,234.5 771.9,236.0C773.8,237.5 776.4,241.0 778.6,244.0C780.8,247.0 785.3,253.9 787.7,257.0C790.1,260.1 793.5,264.0 795.6,266.0C797.7,268.0 799.9,269.3 802.3,271.3C804.7,273.3 810.1,278.7 812.5,280.3C814.9,281.9 815.5,282.2 819.0,282.6C822.5,283.0 832.2,283.3 837.0,283.3C841.8,283.3 849.4,283.4 852.9,282.6C856.4,281.8 859.8,280.2 862.0,278.0C864.2,275.8 867.3,269.4 868.7,266.8C870.1,264.2 870.7,262.9 872.0,260.0C873.3,257.1 875.6,251.1 877.7,246.3C879.8,241.5 884.1,230.5 886.7,226.0C889.3,221.5 893.5,216.6 895.8,214.7C898.1,212.8 900.7,212.7 902.6,212.9C904.5,213.1 907.1,213.5 909.3,215.8C911.5,218.1 915.8,225.6 918.4,229.3C921.0,233.0 924.9,238.8 927.4,241.7C929.9,244.6 933.9,247.5 936.4,249.6C938.9,251.7 942.5,254.5 945.4,256.4C948.3,258.3 953.5,262.1 956.7,263.2C959.9,264.3 964.5,264.1 968.0,263.9C971.5,263.7 977.8,262.7 981.6,262.1C985.4,261.5 991.9,261.1 995.1,259.8C998.3,258.5 1001.5,256.2 1004.1,253.0C1006.7,249.8 1010.3,242.0 1013.2,237.2C1016.1,232.4 1021.2,223.1 1024.4,219.2C1027.6,215.3 1033.1,211.1 1035.7,209.5C1038.3,207.9 1040.7,207.5 1042.5,207.6C1044.3,207.7 1046.5,208.1 1048.5,210.1C1050.5,212.1 1054.0,217.9 1056.4,221.4C1058.8,224.9 1063.3,232.1 1065.5,235.0C1067.7,237.9 1069.7,239.6 1072.2,241.7C1074.8,243.8 1080.4,247.5 1083.5,249.6C1086.6,251.7 1092.9,255.4 1094.4,256.4" fill="none" stroke="#ff0000" stroke-width="3.3" stroke-linejoin="round" stroke-linecap="butt"/>
<g font-family="Liberation Sans, sans-serif" opacity="0.999">
<text x="166.53" y="68.7" font-size="18.3" text-anchor="start" fill="#d00000" stroke="#d00000" stroke-width="0.1" textLength="58.20" lengthAdjust="spacingAndGlyphs">sobota</text>
<text x="170.96" y="90.1" font-size="17.9" text-anchor="start" fill="#d00000" stroke="#d00000" stroke-width="0.1" textLength="50.26" lengthAdjust="spacingAndGlyphs">25.10</text>
<text x="301.75" y="68.7" font-size="18.3" text-anchor="start" fill="#d00000" stroke="#d00000" stroke-width="0.1" textLength="63.31" lengthAdjust="spacingAndGlyphs">nedelja</text>
<text x="309.10" y="90.1" font-size="17.9" text-anchor="start" fill="#d00000" stroke="#d00000" stroke-width="0.1" textLength="50.26" lengthAdjust="spacingAndGlyphs">26.10</text>
<text x="422.84" y="68.7" font-size="18.3" text-anchor="start" fill="#000" stroke="#000" stroke-width="0.1" textLength="97.42" lengthAdjust="spacingAndGlyphs">ponedeljek</text>
<text x="447.24" y="90.1" font-size="17.9" text-anchor="start" fill="#000" stroke="#000" stroke-width="0.1" textLength="50.26" lengthAdjust="spacingAndGlyphs">27.10</text>
<text x="587.25" y="68.7" font-size="18.3" text-anchor="start" fill="#000" stroke="#000" stroke-width="0.1" textLength="45.84" lengthAdjust="spacingAndGlyphs">torek</text>
<text x="585.38" y="90.1" font-size="17.9" text-anchor="start" fill="#000" stroke="#000" stroke-width="0.1" textLength="50.26" lengthAdjust="spacingAndGlyphs">28.10</text>
<text x="724.55" y="68.7" font-size="18.3" text-anchor="start" fill="#000" stroke="#000" stroke-width="0.1" textLength="47.32" lengthAdjust="spacingAndGlyphs">sreda</text>
<text x="723.52" y="90.1" font-size="17.9" text-anchor="start" fill="#000" stroke="#000" stroke-width="0.1" textLength="50.26" lengthAdjust="spacingAndGlyphs">29.10</text>
<text x="854.60" y="68.7" font-size="18.3" text-anchor="start" fill="#000" stroke="#000" stroke-width="0.1" textLength="63.12" lengthAdjust="spacingAndGlyphs">četrtek</text>
<text x="861.94" y="90.1" font-size="17.9" text-anchor="start" fill="#000" stroke="#000" stroke-width="0.1" textLength="49.96" lengthAdjust="spacingAndGlyphs">30.10</text>
<text x="999.05" y="68.7" font-size="18.3" text-anchor="start" fill="#000" stroke="#000" stroke-width="0.1" textLength="50.07" lengthAdjust="spacingAndGlyphs">petek</text>
<text x="1000.08" y="90.1" font-size="17.9" text-anchor="start" fill="#000" stroke="#000" stroke-width="0.1" textLength="49.96" lengthAdjust="spacingAndGlyphs">31.10</text>
<text x="150.08" y="376.8" font-size="17.9" text-anchor="start" fill="#000" stroke="#000" stroke-width="0.1" textLength="22.06" lengthAdjust="spacingAndGlyphs">06</text>
<text x="184.63" y="376.8" font-size="17.9" text-anchor="start" fill="#000" stroke="#000" stroke-width="0.1" textLength="21.40" lengthAdjust="spacingAndGlyphs">12</text>
<text x="218.84" y="376.8" font-size="17.9" text-anchor="start" fill="#000" stroke="#000" stroke-width="0.1" textLength="21.89" lengthAdjust="spacingAndGlyphs">18</text>
<text x="248.18" y="376.8" font-size="18.3" text-anchor="start" fill="#000" stroke="#000" stroke-width="0.1" textLength="32.88" lengthAdjust="spacingAndGlyphs">ned</text>
<text x="288.22" y="376.8" font-size="17.9" text-anchor="start" fill="#000" stroke="#000" stroke-width="0.1" textLength="22.06" lengthAdjust="spacingAndGlyphs">06</text>
<text x="322.77" y="376.8" font-size="17.9" text-anchor="start" fill="#000" stroke="#000" stroke-width="0.1" textLength="21.40" lengthAdjust="spacingAndGlyphs">12</text>
<text x="356.98" y="376.8" font-size="17.9" text-anchor="start" fill="#000" stroke="#000" stroke-width="0.1" textLength="21.89" lengthAdjust="spacingAndGlyphs">18</text>
<text x="386.35" y="376.8" font-size="18.3" text-anchor="start" fill="#000" stroke="#000" stroke-width="0.1" textLength="32.88" lengthAdjust="spacingAndGlyphs">pon</text>
<text x="426.36" y="376.8" font-size="17.9" text-anchor="start" fill="#000" stroke="#000" stroke-width="0.1" textLength="22.06" lengthAdjust="spacingAndGlyphs">06</text>
<text x="460.91" y="376.8" font-size="17.9" text-anchor="start" fill="#000" stroke="#000" stroke-width="0.1" textLength="21.40" lengthAdjust="spacingAndGlyphs">12</text>
<text x="495.12" y="376.8" font-size="17.9" text-anchor="start" fill="#000" stroke="#000" stroke-width="0.1" textLength="21.89" lengthAdjust="spacingAndGlyphs">18</text>
<text x="528.20" y="376.8" font-size="18.3" text-anchor="start" fill="#000" stroke="#000" stroke-width="0.1" textLength="25.43" lengthAdjust="spacingAndGlyphs">tor</text>
<text x="564.50" y="376.8" font-size="17.9" text-anchor="start" fill="#000" stroke="#000" stroke-width="0.1" textLength="22.06" lengthAdjust="spacingAndGlyphs">06</text>
<text x="599.05" y="376.8" font-size="17.9" text-anchor="start" fill="#000" stroke="#000" stroke-width="0.1" textLength="21.40" lengthAdjust="spacingAndGlyphs">12</text>
<text x="633.26" y="376.8" font-size="17.9" text-anchor="start" fill="#000" stroke="#000" stroke-width="0.1" textLength="21.89" lengthAdjust="spacingAndGlyphs">18</text>
<text x="665.89" y="376.8" font-size="18.3" text-anchor="start" fill="#000" stroke="#000" stroke-width="0.1" textLength="26.65" lengthAdjust="spacingAndGlyphs">sre</text>
<text x="702.64" y="376.8" font-size="17.9" text-anchor="start" fill="#000" stroke="#000" stroke-width="0.1" textLength="22.06" lengthAdjust="spacingAndGlyphs">06</text>
<text x="737.19" y="376.8" font-size="17.9" text-anchor="start" fill="#000" stroke="#000" stroke-width="0.1" textLength="21.40" lengthAdjust="spacingAndGlyphs">12</text>
<text x="771.40" y="376.8" font-size="17.9" text-anchor="start" fill="#000" stroke="#000" stroke-width="0.1" textLength="21.89" lengthAdjust="spacingAndGlyphs">18</text>
<text x="803.16" y="376.8" font-size="18.3" text-anchor="start" fill="#000" stroke="#000" stroke-width="0.1" textLength="27.35" lengthAdjust="spacingAndGlyphs">čet</text>
<text x="840.78" y="376.8" font-size="17.9" text-anchor="start" fill="#000" stroke="#000" stroke-width="0.1" textLength="22.06" lengthAdjust="spacingAndGlyphs">06</text>
<text x="875.33" y="376.8" font-size="17.9" text-anchor="start" fill="#000" stroke="#000" stroke-width="0.1" textLength="21.40" lengthAdjust="spacingAndGlyphs">12</text>
<text x="909.54" y="376.8" font-size="17.9" text-anchor="start" fill="#000" stroke="#000" stroke-width="0.1" textLength="21.89" lengthAdjust="spacingAndGlyphs">18</text>
<text x="940.44" y="376.8" font-size="18.3" text-anchor="start" fill="#000" stroke="#000" stroke-width="0.1" textLength="28.63" lengthAdjust="spacingAndGlyphs">pet</text>
<text x="978.92" y="376.8" font-size="17.9" text-anchor="start" fill="#000" stroke="#000" stroke-width="0.1" textLength="22.06" lengthAdjust="spacingAndGlyphs">06</text>
<text x="1013.47" y="376.8" font-size="17.9" text-anchor="start" fill="#000" stroke="#000" stroke-width="0.1" textLength="21.40" lengthAdjust="spacingAndGlyphs">12</text>
<text x="1047.68" y="376.8" font-size="17.9" text-anchor="start" fill="#000" stroke="#000" stroke-width="0.1" textLength="21.89" lengthAdjust="spacingAndGlyphs">18</text>
<text x="113.21" y="365.8" font-size="17.9" text-anchor="start" fill="#000" stroke="#000" stroke-width="0.1" textLength="10.42" lengthAdjust="spacingAndGlyphs">0</text>
<text x="113.76" y="328.4" font-size="17.9" text-anchor="start" fill="#000" stroke="#000" stroke-width="0.1" textLength="10.01" lengthAdjust="spacingAndGlyphs">1</text>
<text x="113.72" y="291.0" font-size="17.9" text-anchor="start" fill="#000" stroke="#000" stroke-width="0.1" textLength="10.06" lengthAdjust="spacingAndGlyphs">2</text>
<text x="113.63" y="253.7" font-size="17.9" text-anchor="start" fill="#000" stroke="#000" stroke-width="0.1" textLength="10.06" lengthAdjust="spacingAndGlyphs">3</text>
<text x="112.95" y="216.3" font-size="17.9" text-anchor="start" fill="#000" stroke="#000" stroke-width="0.1" textLength="10.49" lengthAdjust="spacingAndGlyphs">4</text>
<text x="113.73" y="178.9" font-size="17.9" text-anchor="start" fill="#000" stroke="#000" stroke-width="0.1" textLength="9.90" lengthAdjust="spacingAndGlyphs">5</text>
<text x="45.65" y="365.8" font-size="17.9" text-anchor="start" fill="#ff0000" stroke="#ff0000" stroke-width="0.1" textLength="10.01" lengthAdjust="spacingAndGlyphs">1</text>
<text x="46.02" y="328.4" font-size="17.9" text-anchor="start" fill="#ff0000" stroke="#ff0000" stroke-width="0.1" textLength="10.86" lengthAdjust="spacingAndGlyphs">6</text>
<text x="45.43" y="291.0" font-size="17.9" text-anchor="start" fill="#ff0000" stroke="#ff0000" stroke-width="0.1" textLength="21.71" lengthAdjust="spacingAndGlyphs">11</text>
<text x="45.55" y="253.7" font-size="17.9" text-anchor="start" fill="#ff0000" stroke="#ff0000" stroke-width="0.1" textLength="21.49" lengthAdjust="spacingAndGlyphs">15</text>
<text x="46.01" y="216.3" font-size="17.9" text-anchor="start" fill="#ff0000" stroke="#ff0000" stroke-width="0.1" textLength="21.98" lengthAdjust="spacingAndGlyphs">20</text>
<text x="46.03" y="178.9" font-size="17.9" text-anchor="start" fill="#ff0000" stroke="#ff0000" stroke-width="0.1" textLength="21.64" lengthAdjust="spacingAndGlyphs">25</text>
<text x="1099.10" y="365.8" font-size="17.9" text-anchor="start" fill="#000" stroke="#000" stroke-width="0.1" textLength="10.42" lengthAdjust="spacingAndGlyphs">0</text>
<text x="1098.34" y="328.4" font-size="17.9" text-anchor="start" fill="#000" stroke="#000" stroke-width="0.1" textLength="27.12" lengthAdjust="spacingAndGlyphs">1.5</text>
<text x="1099.07" y="291.0" font-size="17.9" text-anchor="start" fill="#000" stroke="#000" stroke-width="0.1" textLength="26.96" lengthAdjust="spacingAndGlyphs">3.5</text>
<text x="1098.80" y="253.7" font-size="17.9" text-anchor="start" fill="#000" stroke="#000" stroke-width="0.1" textLength="27.69" lengthAdjust="spacingAndGlyphs">6.0</text>
<text x="1098.90" y="216.3" font-size="17.9" text-anchor="start" fill="#000" stroke="#000" stroke-width="0.1" textLength="27.68" lengthAdjust="spacingAndGlyphs">9.0</text>
<text x="1098.33" y="178.9" font-size="17.9" text-anchor="start" fill="#000" stroke="#000" stroke-width="0.1" textLength="21.86" lengthAdjust="spacingAndGlyphs">14</text>
<text transform="translate(34.7,266.7) rotate(-90)" x="-82.49" y="0" font-size="20.0" text-anchor="start" fill="#ff0000" stroke="#ff0000" stroke-width="0.1" textLength="165.84" lengthAdjust="spacingAndGlyphs">Temperatura (°C)</text>
<text transform="translate(99.8,263.4) rotate(-90)" x="-81.88" y="0" font-size="20.0" text-anchor="start" fill="#000" stroke="#000" stroke-width="0.1" textLength="163.37" lengthAdjust="spacingAndGlyphs">Padavine (mm/h)</text>
<text transform="translate(1145.0,255.4) rotate(-90)" x="-93.39" y="0" font-size="20.0" text-anchor="start" fill="#000" stroke="#000" stroke-width="0.1" textLength="188.01" lengthAdjust="spacingAndGlyphs">Višina oblakov (km)</text>
<text x="133.14" y="316.4" font-size="17.9" text-anchor="start" fill="#000" stroke="#000" stroke-width="0.1" textLength="10.75" lengthAdjust="spacingAndGlyphs">9</text>
<text x="208.48" y="264.0" font-size="17.9" text-anchor="start" fill="#000" stroke="#000" stroke-width="0.1" textLength="22.04" lengthAdjust="spacingAndGlyphs">16</text>
<text x="287.76" y="304.0" font-size="17.9" text-anchor="start" fill="#000" stroke="#000" stroke-width="0.1" textLength="21.71" lengthAdjust="spacingAndGlyphs">11</text>
<text x="333.82" y="282.6" font-size="17.9" text-anchor="start" fill="#000" stroke="#000" stroke-width="0.1" textLength="21.86" lengthAdjust="spacingAndGlyphs">14</text>
<text x="433.38" y="330.0" font-size="17.9" text-anchor="start" fill="#000" stroke="#000" stroke-width="0.1" textLength="10.22" lengthAdjust="spacingAndGlyphs">7</text>
<text x="478.46" y="282.6" font-size="17.9" text-anchor="start" fill="#000" stroke="#000" stroke-width="0.1" textLength="21.69" lengthAdjust="spacingAndGlyphs">13</text>
<text x="571.78" y="335.6" font-size="17.9" text-anchor="start" fill="#000" stroke="#000" stroke-width="0.1" textLength="10.22" lengthAdjust="spacingAndGlyphs">7</text>
<text x="616.28" y="259.8" font-size="17.9" text-anchor="start" fill="#000" stroke="#000" stroke-width="0.1" textLength="22.04" lengthAdjust="spacingAndGlyphs">16</text>
<text x="709.88" y="336.6" font-size="17.9" text-anchor="start" fill="#000" stroke="#000" stroke-width="0.1" textLength="10.22" lengthAdjust="spacingAndGlyphs">7</text>
<text x="755.70" y="255.3" font-size="17.9" text-anchor="start" fill="#000" stroke="#000" stroke-width="0.1" textLength="21.70" lengthAdjust="spacingAndGlyphs">17</text>
<text x="811.86" y="305.1" font-size="17.9" text-anchor="start" fill="#000" stroke="#000" stroke-width="0.1" textLength="21.71" lengthAdjust="spacingAndGlyphs">11</text>
<text x="892.81" y="234.5" font-size="17.9" text-anchor="start" fill="#000" stroke="#000" stroke-width="0.1" textLength="21.98" lengthAdjust="spacingAndGlyphs">20</text>
<text x="950.46" y="286.6" font-size="17.9" text-anchor="start" fill="#000" stroke="#000" stroke-width="0.1" textLength="21.69" lengthAdjust="spacingAndGlyphs">13</text>
<text x="1032.11" y="229.3" font-size="17.9" text-anchor="start" fill="#000" stroke="#000" stroke-width="0.1" textLength="21.98" lengthAdjust="spacingAndGlyphs">20</text>
<text x="1083.22" y="277.6" font-size="17.9" text-anchor="start" fill="#000" stroke="#000" stroke-width="0.1" textLength="21.86" lengthAdjust="spacingAndGlyphs">14</text>
<text x="10.0" y="21.4" font-size="16" text-anchor="start" fill="#0000ff" >(kraj lahko izberete v meniju)</text>
<text x="1143.0" y="21.7" font-size="16" text-anchor="end" fill="#0000ff" >Zadnja posodobitev: 25.10.2025 - 00:09</text>
<text x="465.8" y="36.5" font-size="24" text-anchor="middle" fill="#0000ff" >Zagreb 7 dni</text>
<rect x="127" y="390" width="32" height="11" fill="#0050ff"/>
<rect x="165" y="386" width="105" height="20" fill="#fff"/>
<text x="168.4" y="401.5" font-size="19.6" text-anchor="start" fill="#000" >Dež</text>
<rect x="278" y="390" width="32" height="11" fill="#0cdac8"/>
<rect x="310" y="386" width="110" height="20" fill="#fff"/>
<text x="318.2" y="401.5" font-size="19.6" text-anchor="start" fill="#000" >Možnost ploh</text>
<text x="585.2" y="401.3" font-size="15.78" text-anchor="middle" fill="#0000ff" >© vreme.us &amp; vreme.pro</text>
<rect x="759" y="386" width="181" height="20" fill="#fff"/>
<text x="759.3" y="401.5" font-size="19.35" text-anchor="start" fill="#000" >Gostota oblakov (%)</text>
<rect x="949.2" y="385.3" width="29.3" height="13.4" fill="#d3d3d3"/>
<rect x="978.2" y="385.3" width="29.3" height="13.4" fill="#b2b2b2"/>
<rect x="1007.2" y="385.3" width="29.3" height="13.4" fill="#929292"/>
<rect x="1036.2" y="385.3" width="29.3" height="13.4" fill="#747474"/>
<rect x="1065.2" y="385.3" width="29.3" height="13.4" fill="#575757"/>
<rect x="949.4" y="385.3" width="145.3" height="13.4" fill="none" stroke="#1a1a1a" stroke-width="1.0"/>
<text x="940.50" y="414.1" font-size="15.0" text-anchor="start" fill="#000" stroke="#000" stroke-width="0.1" textLength="18.03" lengthAdjust="spacingAndGlyphs">10</text>
<text x="968.10" y="414.1" font-size="15.0" text-anchor="start" fill="#000" stroke="#000" stroke-width="0.1" textLength="17.87" lengthAdjust="spacingAndGlyphs">25</text>
<text x="997.03" y="414.1" font-size="15.0" text-anchor="start" fill="#000" stroke="#000" stroke-width="0.1" textLength="17.94" lengthAdjust="spacingAndGlyphs">50</text>
<text x="1026.56" y="414.1" font-size="15.0" text-anchor="start" fill="#000" stroke="#000" stroke-width="0.1" textLength="17.75" lengthAdjust="spacingAndGlyphs">75</text>
<text x="1055.75" y="414.1" font-size="15.0" text-anchor="start" fill="#000" stroke="#000" stroke-width="0.1" textLength="18.22" lengthAdjust="spacingAndGlyphs">90</text>
<text x="1080.92" y="414.1" font-size="15.0" text-anchor="start" fill="#000" stroke="#000" stroke-width="0.1" textLength="27.37" lengthAdjust="spacingAndGlyphs">100</text>
</g>
</svg>
</body></html>
